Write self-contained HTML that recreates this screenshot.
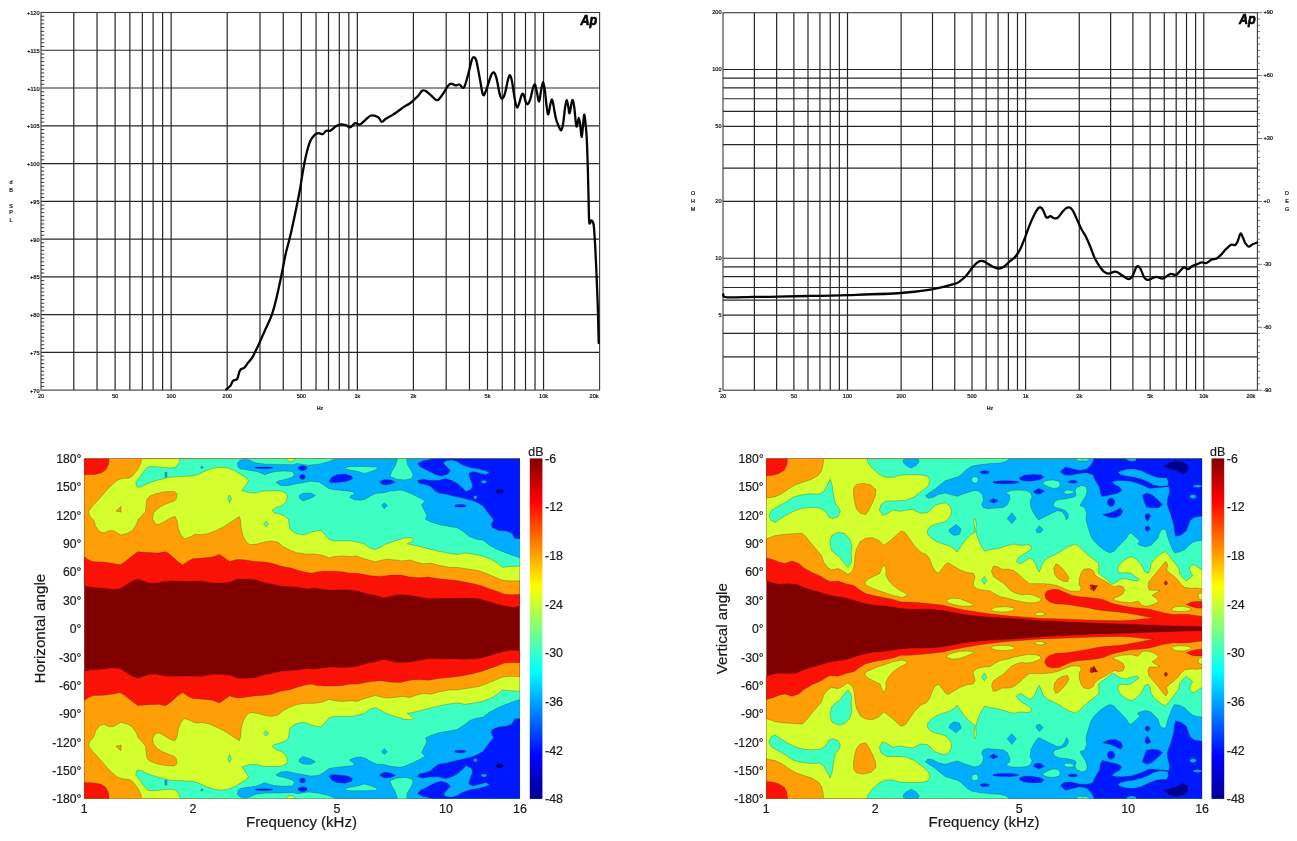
<!DOCTYPE html>
<html><head><meta charset="utf-8"><title>Driver measurements</title>
<style>
html,body{margin:0;padding:0;background:#fff;}
body{width:1297px;height:841px;overflow:hidden;font-family:'Liberation Sans', sans-serif;}
svg{display:block;font-family:"Liberation Sans", sans-serif;filter:blur(0.45px);}
</style></head><body>
<svg width="1297" height="841" viewBox="0 0 1297 841">
<rect width="1297" height="841" fill="#fff"/>
<g id="chartA">
<line x1="73.79" y1="12.50" x2="73.79" y2="390.10" stroke="#262626" stroke-width="1.2" />
<line x1="97.05" y1="12.50" x2="97.05" y2="390.10" stroke="#262626" stroke-width="1.2" />
<line x1="115.10" y1="12.50" x2="115.10" y2="390.10" stroke="#262626" stroke-width="1.2" />
<line x1="129.84" y1="12.50" x2="129.84" y2="390.10" stroke="#262626" stroke-width="1.2" />
<line x1="142.31" y1="12.50" x2="142.31" y2="390.10" stroke="#262626" stroke-width="1.2" />
<line x1="153.10" y1="12.50" x2="153.10" y2="390.10" stroke="#262626" stroke-width="1.2" />
<line x1="162.63" y1="12.50" x2="162.63" y2="390.10" stroke="#262626" stroke-width="1.2" />
<line x1="171.15" y1="12.50" x2="171.15" y2="390.10" stroke="#262626" stroke-width="1.2" />
<line x1="227.20" y1="12.50" x2="227.20" y2="390.10" stroke="#262626" stroke-width="1.2" />
<line x1="259.99" y1="12.50" x2="259.99" y2="390.10" stroke="#262626" stroke-width="1.2" />
<line x1="283.25" y1="12.50" x2="283.25" y2="390.10" stroke="#262626" stroke-width="1.2" />
<line x1="301.30" y1="12.50" x2="301.30" y2="390.10" stroke="#262626" stroke-width="1.2" />
<line x1="316.04" y1="12.50" x2="316.04" y2="390.10" stroke="#262626" stroke-width="1.2" />
<line x1="328.51" y1="12.50" x2="328.51" y2="390.10" stroke="#262626" stroke-width="1.2" />
<line x1="339.30" y1="12.50" x2="339.30" y2="390.10" stroke="#262626" stroke-width="1.2" />
<line x1="348.83" y1="12.50" x2="348.83" y2="390.10" stroke="#262626" stroke-width="1.2" />
<line x1="357.35" y1="12.50" x2="357.35" y2="390.10" stroke="#262626" stroke-width="1.2" />
<line x1="413.40" y1="12.50" x2="413.40" y2="390.10" stroke="#262626" stroke-width="1.2" />
<line x1="446.19" y1="12.50" x2="446.19" y2="390.10" stroke="#262626" stroke-width="1.2" />
<line x1="469.45" y1="12.50" x2="469.45" y2="390.10" stroke="#262626" stroke-width="1.2" />
<line x1="487.50" y1="12.50" x2="487.50" y2="390.10" stroke="#262626" stroke-width="1.2" />
<line x1="502.24" y1="12.50" x2="502.24" y2="390.10" stroke="#262626" stroke-width="1.2" />
<line x1="514.71" y1="12.50" x2="514.71" y2="390.10" stroke="#262626" stroke-width="1.2" />
<line x1="525.50" y1="12.50" x2="525.50" y2="390.10" stroke="#262626" stroke-width="1.2" />
<line x1="535.03" y1="12.50" x2="535.03" y2="390.10" stroke="#262626" stroke-width="1.2" />
<line x1="543.55" y1="12.50" x2="543.55" y2="390.10" stroke="#262626" stroke-width="1.2" />
<line x1="41.00" y1="50.26" x2="599.60" y2="50.26" stroke="#262626" stroke-width="1.2" />
<line x1="41.00" y1="88.02" x2="599.60" y2="88.02" stroke="#262626" stroke-width="1.2" />
<line x1="41.00" y1="125.78" x2="599.60" y2="125.78" stroke="#262626" stroke-width="1.2" />
<line x1="41.00" y1="163.54" x2="599.60" y2="163.54" stroke="#262626" stroke-width="1.2" />
<line x1="41.00" y1="201.30" x2="599.60" y2="201.30" stroke="#262626" stroke-width="1.2" />
<line x1="41.00" y1="239.06" x2="599.60" y2="239.06" stroke="#262626" stroke-width="1.2" />
<line x1="41.00" y1="276.82" x2="599.60" y2="276.82" stroke="#262626" stroke-width="1.2" />
<line x1="41.00" y1="314.58" x2="599.60" y2="314.58" stroke="#262626" stroke-width="1.2" />
<line x1="41.00" y1="352.34" x2="599.60" y2="352.34" stroke="#262626" stroke-width="1.2" />
<rect x="41.0" y="12.5" width="558.60" height="377.60" fill="none" stroke="#3a3a3a" stroke-width="1.1"/>
<line x1="41.00" y1="16.28" x2="44.20" y2="16.28" stroke="#222" stroke-width="0.9" />
<line x1="41.00" y1="20.05" x2="44.20" y2="20.05" stroke="#222" stroke-width="0.9" />
<line x1="41.00" y1="23.83" x2="44.20" y2="23.83" stroke="#222" stroke-width="0.9" />
<line x1="41.00" y1="27.60" x2="44.20" y2="27.60" stroke="#222" stroke-width="0.9" />
<line x1="41.00" y1="31.38" x2="44.20" y2="31.38" stroke="#222" stroke-width="0.9" />
<line x1="41.00" y1="35.16" x2="44.20" y2="35.16" stroke="#222" stroke-width="0.9" />
<line x1="41.00" y1="38.93" x2="44.20" y2="38.93" stroke="#222" stroke-width="0.9" />
<line x1="41.00" y1="42.71" x2="44.20" y2="42.71" stroke="#222" stroke-width="0.9" />
<line x1="41.00" y1="46.48" x2="44.20" y2="46.48" stroke="#222" stroke-width="0.9" />
<line x1="41.00" y1="54.04" x2="44.20" y2="54.04" stroke="#222" stroke-width="0.9" />
<line x1="41.00" y1="57.81" x2="44.20" y2="57.81" stroke="#222" stroke-width="0.9" />
<line x1="41.00" y1="61.59" x2="44.20" y2="61.59" stroke="#222" stroke-width="0.9" />
<line x1="41.00" y1="65.36" x2="44.20" y2="65.36" stroke="#222" stroke-width="0.9" />
<line x1="41.00" y1="69.14" x2="44.20" y2="69.14" stroke="#222" stroke-width="0.9" />
<line x1="41.00" y1="72.92" x2="44.20" y2="72.92" stroke="#222" stroke-width="0.9" />
<line x1="41.00" y1="76.69" x2="44.20" y2="76.69" stroke="#222" stroke-width="0.9" />
<line x1="41.00" y1="80.47" x2="44.20" y2="80.47" stroke="#222" stroke-width="0.9" />
<line x1="41.00" y1="84.24" x2="44.20" y2="84.24" stroke="#222" stroke-width="0.9" />
<line x1="41.00" y1="91.80" x2="44.20" y2="91.80" stroke="#222" stroke-width="0.9" />
<line x1="41.00" y1="95.57" x2="44.20" y2="95.57" stroke="#222" stroke-width="0.9" />
<line x1="41.00" y1="99.35" x2="44.20" y2="99.35" stroke="#222" stroke-width="0.9" />
<line x1="41.00" y1="103.12" x2="44.20" y2="103.12" stroke="#222" stroke-width="0.9" />
<line x1="41.00" y1="106.90" x2="44.20" y2="106.90" stroke="#222" stroke-width="0.9" />
<line x1="41.00" y1="110.68" x2="44.20" y2="110.68" stroke="#222" stroke-width="0.9" />
<line x1="41.00" y1="114.45" x2="44.20" y2="114.45" stroke="#222" stroke-width="0.9" />
<line x1="41.00" y1="118.23" x2="44.20" y2="118.23" stroke="#222" stroke-width="0.9" />
<line x1="41.00" y1="122.00" x2="44.20" y2="122.00" stroke="#222" stroke-width="0.9" />
<line x1="41.00" y1="129.56" x2="44.20" y2="129.56" stroke="#222" stroke-width="0.9" />
<line x1="41.00" y1="133.33" x2="44.20" y2="133.33" stroke="#222" stroke-width="0.9" />
<line x1="41.00" y1="137.11" x2="44.20" y2="137.11" stroke="#222" stroke-width="0.9" />
<line x1="41.00" y1="140.88" x2="44.20" y2="140.88" stroke="#222" stroke-width="0.9" />
<line x1="41.00" y1="144.66" x2="44.20" y2="144.66" stroke="#222" stroke-width="0.9" />
<line x1="41.00" y1="148.44" x2="44.20" y2="148.44" stroke="#222" stroke-width="0.9" />
<line x1="41.00" y1="152.21" x2="44.20" y2="152.21" stroke="#222" stroke-width="0.9" />
<line x1="41.00" y1="155.99" x2="44.20" y2="155.99" stroke="#222" stroke-width="0.9" />
<line x1="41.00" y1="159.76" x2="44.20" y2="159.76" stroke="#222" stroke-width="0.9" />
<line x1="41.00" y1="167.32" x2="44.20" y2="167.32" stroke="#222" stroke-width="0.9" />
<line x1="41.00" y1="171.09" x2="44.20" y2="171.09" stroke="#222" stroke-width="0.9" />
<line x1="41.00" y1="174.87" x2="44.20" y2="174.87" stroke="#222" stroke-width="0.9" />
<line x1="41.00" y1="178.64" x2="44.20" y2="178.64" stroke="#222" stroke-width="0.9" />
<line x1="41.00" y1="182.42" x2="44.20" y2="182.42" stroke="#222" stroke-width="0.9" />
<line x1="41.00" y1="186.20" x2="44.20" y2="186.20" stroke="#222" stroke-width="0.9" />
<line x1="41.00" y1="189.97" x2="44.20" y2="189.97" stroke="#222" stroke-width="0.9" />
<line x1="41.00" y1="193.75" x2="44.20" y2="193.75" stroke="#222" stroke-width="0.9" />
<line x1="41.00" y1="197.52" x2="44.20" y2="197.52" stroke="#222" stroke-width="0.9" />
<line x1="41.00" y1="205.08" x2="44.20" y2="205.08" stroke="#222" stroke-width="0.9" />
<line x1="41.00" y1="208.85" x2="44.20" y2="208.85" stroke="#222" stroke-width="0.9" />
<line x1="41.00" y1="212.63" x2="44.20" y2="212.63" stroke="#222" stroke-width="0.9" />
<line x1="41.00" y1="216.40" x2="44.20" y2="216.40" stroke="#222" stroke-width="0.9" />
<line x1="41.00" y1="220.18" x2="44.20" y2="220.18" stroke="#222" stroke-width="0.9" />
<line x1="41.00" y1="223.96" x2="44.20" y2="223.96" stroke="#222" stroke-width="0.9" />
<line x1="41.00" y1="227.73" x2="44.20" y2="227.73" stroke="#222" stroke-width="0.9" />
<line x1="41.00" y1="231.51" x2="44.20" y2="231.51" stroke="#222" stroke-width="0.9" />
<line x1="41.00" y1="235.28" x2="44.20" y2="235.28" stroke="#222" stroke-width="0.9" />
<line x1="41.00" y1="242.84" x2="44.20" y2="242.84" stroke="#222" stroke-width="0.9" />
<line x1="41.00" y1="246.61" x2="44.20" y2="246.61" stroke="#222" stroke-width="0.9" />
<line x1="41.00" y1="250.39" x2="44.20" y2="250.39" stroke="#222" stroke-width="0.9" />
<line x1="41.00" y1="254.16" x2="44.20" y2="254.16" stroke="#222" stroke-width="0.9" />
<line x1="41.00" y1="257.94" x2="44.20" y2="257.94" stroke="#222" stroke-width="0.9" />
<line x1="41.00" y1="261.72" x2="44.20" y2="261.72" stroke="#222" stroke-width="0.9" />
<line x1="41.00" y1="265.49" x2="44.20" y2="265.49" stroke="#222" stroke-width="0.9" />
<line x1="41.00" y1="269.27" x2="44.20" y2="269.27" stroke="#222" stroke-width="0.9" />
<line x1="41.00" y1="273.04" x2="44.20" y2="273.04" stroke="#222" stroke-width="0.9" />
<line x1="41.00" y1="280.60" x2="44.20" y2="280.60" stroke="#222" stroke-width="0.9" />
<line x1="41.00" y1="284.37" x2="44.20" y2="284.37" stroke="#222" stroke-width="0.9" />
<line x1="41.00" y1="288.15" x2="44.20" y2="288.15" stroke="#222" stroke-width="0.9" />
<line x1="41.00" y1="291.92" x2="44.20" y2="291.92" stroke="#222" stroke-width="0.9" />
<line x1="41.00" y1="295.70" x2="44.20" y2="295.70" stroke="#222" stroke-width="0.9" />
<line x1="41.00" y1="299.48" x2="44.20" y2="299.48" stroke="#222" stroke-width="0.9" />
<line x1="41.00" y1="303.25" x2="44.20" y2="303.25" stroke="#222" stroke-width="0.9" />
<line x1="41.00" y1="307.03" x2="44.20" y2="307.03" stroke="#222" stroke-width="0.9" />
<line x1="41.00" y1="310.80" x2="44.20" y2="310.80" stroke="#222" stroke-width="0.9" />
<line x1="41.00" y1="318.36" x2="44.20" y2="318.36" stroke="#222" stroke-width="0.9" />
<line x1="41.00" y1="322.13" x2="44.20" y2="322.13" stroke="#222" stroke-width="0.9" />
<line x1="41.00" y1="325.91" x2="44.20" y2="325.91" stroke="#222" stroke-width="0.9" />
<line x1="41.00" y1="329.68" x2="44.20" y2="329.68" stroke="#222" stroke-width="0.9" />
<line x1="41.00" y1="333.46" x2="44.20" y2="333.46" stroke="#222" stroke-width="0.9" />
<line x1="41.00" y1="337.24" x2="44.20" y2="337.24" stroke="#222" stroke-width="0.9" />
<line x1="41.00" y1="341.01" x2="44.20" y2="341.01" stroke="#222" stroke-width="0.9" />
<line x1="41.00" y1="344.79" x2="44.20" y2="344.79" stroke="#222" stroke-width="0.9" />
<line x1="41.00" y1="348.56" x2="44.20" y2="348.56" stroke="#222" stroke-width="0.9" />
<line x1="41.00" y1="356.12" x2="44.20" y2="356.12" stroke="#222" stroke-width="0.9" />
<line x1="41.00" y1="359.89" x2="44.20" y2="359.89" stroke="#222" stroke-width="0.9" />
<line x1="41.00" y1="363.67" x2="44.20" y2="363.67" stroke="#222" stroke-width="0.9" />
<line x1="41.00" y1="367.44" x2="44.20" y2="367.44" stroke="#222" stroke-width="0.9" />
<line x1="41.00" y1="371.22" x2="44.20" y2="371.22" stroke="#222" stroke-width="0.9" />
<line x1="41.00" y1="375.00" x2="44.20" y2="375.00" stroke="#222" stroke-width="0.9" />
<line x1="41.00" y1="378.77" x2="44.20" y2="378.77" stroke="#222" stroke-width="0.9" />
<line x1="41.00" y1="382.55" x2="44.20" y2="382.55" stroke="#222" stroke-width="0.9" />
<line x1="41.00" y1="386.32" x2="44.20" y2="386.32" stroke="#222" stroke-width="0.9" />
<text x="39.50" y="15.10" font-size="5.6" text-anchor="end" fill="#111"  stroke="#111" stroke-width="0.22">+120</text>
<text x="39.50" y="52.86" font-size="5.6" text-anchor="end" fill="#111"  stroke="#111" stroke-width="0.22">+115</text>
<text x="39.50" y="90.62" font-size="5.6" text-anchor="end" fill="#111"  stroke="#111" stroke-width="0.22">+110</text>
<text x="39.50" y="128.38" font-size="5.6" text-anchor="end" fill="#111"  stroke="#111" stroke-width="0.22">+105</text>
<text x="39.50" y="166.14" font-size="5.6" text-anchor="end" fill="#111"  stroke="#111" stroke-width="0.22">+100</text>
<text x="39.50" y="203.90" font-size="5.6" text-anchor="end" fill="#111"  stroke="#111" stroke-width="0.22">+95</text>
<text x="39.50" y="241.66" font-size="5.6" text-anchor="end" fill="#111"  stroke="#111" stroke-width="0.22">+90</text>
<text x="39.50" y="279.42" font-size="5.6" text-anchor="end" fill="#111"  stroke="#111" stroke-width="0.22">+85</text>
<text x="39.50" y="317.18" font-size="5.6" text-anchor="end" fill="#111"  stroke="#111" stroke-width="0.22">+80</text>
<text x="39.50" y="354.94" font-size="5.6" text-anchor="end" fill="#111"  stroke="#111" stroke-width="0.22">+75</text>
<text x="39.50" y="392.70" font-size="5.6" text-anchor="end" fill="#111"  stroke="#111" stroke-width="0.22">+70</text>
<text x="41.00" y="397.60" font-size="5.6" text-anchor="middle" fill="#111"  stroke="#111" stroke-width="0.22">20</text>
<text x="115.10" y="397.60" font-size="5.6" text-anchor="middle" fill="#111"  stroke="#111" stroke-width="0.22">50</text>
<text x="171.15" y="397.60" font-size="5.6" text-anchor="middle" fill="#111"  stroke="#111" stroke-width="0.22">100</text>
<text x="227.20" y="397.60" font-size="5.6" text-anchor="middle" fill="#111"  stroke="#111" stroke-width="0.22">200</text>
<text x="301.30" y="397.60" font-size="5.6" text-anchor="middle" fill="#111"  stroke="#111" stroke-width="0.22">500</text>
<text x="357.35" y="397.60" font-size="5.6" text-anchor="middle" fill="#111"  stroke="#111" stroke-width="0.22">1k</text>
<text x="413.40" y="397.60" font-size="5.6" text-anchor="middle" fill="#111"  stroke="#111" stroke-width="0.22">2k</text>
<text x="487.50" y="397.60" font-size="5.6" text-anchor="middle" fill="#111"  stroke="#111" stroke-width="0.22">5k</text>
<text x="543.55" y="397.60" font-size="5.6" text-anchor="middle" fill="#111"  stroke="#111" stroke-width="0.22">10k</text>
<text x="594.10" y="397.60" font-size="5.6" text-anchor="middle" fill="#111"  stroke="#111" stroke-width="0.22">20k</text>
<text x="320.00" y="409.50" font-size="5.2" text-anchor="middle" fill="#222"  stroke="#111" stroke-width="0.22">Hz</text>
<text x="11.00" y="184.20" font-size="5.4" text-anchor="middle" fill="#222"  stroke="#111" stroke-width="0.22">d</text>
<text x="11.00" y="191.80" font-size="5.4" text-anchor="middle" fill="#222"  stroke="#111" stroke-width="0.22">B</text>
<text x="11.00" y="207.50" font-size="5.4" text-anchor="middle" fill="#222"  stroke="#111" stroke-width="0.22">S</text>
<text x="11.00" y="214.30" font-size="5.4" text-anchor="middle" fill="#222"  stroke="#111" stroke-width="0.22">P</text>
<text x="11.00" y="222.20" font-size="5.4" text-anchor="middle" fill="#222"  stroke="#111" stroke-width="0.22">L</text>
<path d="M226.2,389.3 C226.9,388.7 229.2,387.3 230.3,385.9 C231.5,384.5 231.9,381.8 233.1,380.7 C234.2,379.6 236.0,380.7 237.2,379.0 C238.3,377.3 238.8,372.2 240.0,370.3 C241.2,368.4 242.8,369.0 244.1,367.9 C245.4,366.8 246.1,365.3 247.6,363.4 C249.1,361.5 251.1,359.5 252.8,356.6 C254.5,353.7 255.9,350.5 257.9,346.2 C259.9,341.9 262.5,335.9 264.8,330.7 C267.1,325.5 269.7,320.9 271.7,315.2 C273.7,309.4 275.2,303.4 276.9,296.2 C278.6,289.0 280.7,279.0 282.1,272.1 C283.5,265.2 284.1,261.1 285.5,254.8 C286.9,248.5 289.0,241.6 290.7,234.1 C292.4,226.6 294.3,217.5 295.9,210.0 C297.4,202.5 298.9,195.6 300.0,189.3 C301.1,183.0 301.8,177.8 302.8,172.1 C303.8,166.3 304.9,160.0 306.2,154.8 C307.4,149.6 308.9,144.3 310.3,141.0 C311.7,137.7 313.5,136.1 314.8,134.8 C316.1,133.5 317.0,133.2 318.3,133.1 C319.6,133.0 321.5,134.5 322.8,134.1 C324.1,133.7 324.9,131.3 326.2,130.7 C327.4,130.1 328.8,131.4 330.3,130.7 C331.9,130.0 333.8,127.6 335.5,126.6 C337.2,125.6 339.0,124.7 340.7,124.5 C342.4,124.3 344.3,124.8 345.9,125.2 C347.5,125.7 348.8,127.6 350.3,127.2 C351.9,126.8 353.6,123.5 355.2,123.1 C356.8,122.6 358.0,125.0 359.7,124.5 C361.4,124.0 363.3,121.6 365.2,120.1 C367.1,118.6 368.9,116.0 371.1,115.5 C373.3,115.0 376.6,116.2 378.3,117.2 C380.1,118.2 380.3,121.6 381.6,121.8 C382.9,122.0 384.7,119.5 386.2,118.5 C387.7,117.5 389.0,117.1 390.7,116.1 C392.4,115.0 394.5,113.7 396.6,112.2 C398.7,110.8 401.0,108.9 403.2,107.4 C405.4,106.0 408.0,104.7 409.7,103.5 C411.4,102.3 412.1,101.6 413.6,100.2 C415.1,98.8 417.5,96.6 418.9,95.0 C420.3,93.4 421.0,91.5 422.1,90.8 C423.2,90.1 423.9,90.0 425.4,90.8 C426.9,91.6 429.3,94.0 431.3,95.6 C433.3,97.2 435.2,100.5 437.2,100.2 C439.2,99.9 441.4,95.9 443.1,93.6 C444.9,91.3 446.4,88.1 447.7,86.4 C449.0,84.7 449.6,83.8 450.9,83.6 C452.2,83.4 454.1,85.2 455.5,85.4 C456.9,85.6 458.0,84.2 459.4,84.5 C460.8,84.8 462.5,89.4 464.0,87.4 C465.5,85.4 467.3,77.3 468.6,72.7 C469.9,68.1 471.0,62.2 471.9,59.6 C472.8,57.0 473.4,57.1 474.1,57.3 C474.9,57.5 475.5,57.5 476.4,60.9 C477.3,64.3 478.6,72.3 479.7,77.9 C480.8,83.5 481.9,92.7 483.0,94.7 C484.1,96.7 485.0,92.8 486.3,89.7 C487.6,86.6 489.6,78.9 490.8,76.0 C492.0,73.1 492.8,72.1 493.7,72.4 C494.6,72.7 495.4,74.4 496.4,77.9 C497.4,81.4 498.7,90.1 499.6,93.6 C500.5,97.0 501.1,98.6 502.0,98.6 C502.9,98.6 503.9,96.8 504.9,93.6 C505.9,90.4 507.2,82.3 508.1,79.3 C509.0,76.2 509.4,74.9 510.1,75.3 C510.8,75.7 511.3,78.0 512.1,81.9 C512.9,85.8 513.9,94.7 514.7,98.9 C515.5,103.2 516.2,106.8 517.0,107.4 C517.8,108.1 518.5,105.0 519.3,102.8 C520.1,100.6 521.1,95.6 521.9,94.3 C522.6,93.0 523.1,93.7 523.8,95.0 C524.4,96.3 525.1,100.6 525.8,102.1 C526.5,103.6 527.0,104.6 527.8,104.1 C528.6,103.6 529.5,101.6 530.4,98.9 C531.3,96.2 532.2,90.2 533.0,87.8 C533.8,85.4 534.4,83.8 535.0,84.5 C535.6,85.2 536.2,89.5 536.9,92.3 C537.6,95.1 538.4,101.9 539.1,101.5 C539.8,101.1 540.5,92.9 541.2,89.7 C541.9,86.5 542.5,82.1 543.1,82.1 C543.7,82.1 544.2,85.6 544.8,89.7 C545.4,93.8 546.1,102.6 546.7,106.7 C547.3,110.8 547.7,114.7 548.3,114.3 C548.9,113.9 549.8,106.6 550.4,104.1 C551.0,101.6 551.5,99.3 552.0,99.5 C552.5,99.7 552.9,102.2 553.5,105.4 C554.1,108.6 555.1,115.1 555.9,118.5 C556.7,121.9 557.6,123.7 558.5,125.7 C559.4,127.7 560.3,130.6 561.1,130.3 C561.9,130.0 562.5,127.4 563.1,123.7 C563.8,120.0 564.4,111.9 565.0,108.0 C565.6,104.1 566.1,100.4 566.6,100.2 C567.1,100.0 567.8,104.5 568.3,106.7 C568.8,108.9 569.0,114.0 569.6,113.3 C570.2,112.6 571.1,104.9 571.6,102.8 C572.1,100.7 572.4,99.3 572.9,100.4 C573.4,101.5 574.0,105.1 574.5,109.3 C575.0,113.5 575.7,123.3 576.2,125.7 C576.7,128.1 577.1,125.0 577.5,123.7 C577.9,122.4 578.4,117.8 578.8,117.8 C579.2,117.8 579.6,120.5 580.1,123.7 C580.6,126.9 581.2,137.2 581.8,136.8 C582.3,136.4 583.0,124.8 583.4,121.1 C583.8,117.4 584.0,114.1 584.4,114.8 C584.8,115.5 585.3,120.9 585.7,125.0 C586.1,129.1 586.4,131.6 586.8,139.3 C587.2,147.0 587.6,161.3 587.9,171.4 C588.2,181.5 588.4,191.5 588.6,200.0 C588.8,208.5 588.8,219.1 589.3,222.5 C589.8,225.9 590.7,220.2 591.4,220.5 C592.1,220.8 593.0,220.8 593.6,224.5 C594.2,228.2 594.5,235.1 595.0,242.9 C595.5,250.7 595.9,261.3 596.4,271.4 C596.9,281.5 597.3,291.7 597.7,303.6 C598.1,315.5 598.5,336.4 598.7,343.0" stroke="#050505" stroke-width="2.3" fill="none" stroke-linejoin="round" stroke-linecap="round"/>
<text x="580.4" y="24.5" font-size="14.6" font-weight="bold" font-style="italic" fill="#000" stroke="#000" stroke-width="0.7" textLength="16.8" lengthAdjust="spacingAndGlyphs">Ap</text>
</g>
<g id="chartB">
<line x1="754.37" y1="12.70" x2="754.37" y2="390.20" stroke="#262626" stroke-width="1.2" />
<line x1="776.62" y1="12.70" x2="776.62" y2="390.20" stroke="#262626" stroke-width="1.2" />
<line x1="793.89" y1="12.70" x2="793.89" y2="390.20" stroke="#262626" stroke-width="1.2" />
<line x1="807.99" y1="12.70" x2="807.99" y2="390.20" stroke="#262626" stroke-width="1.2" />
<line x1="819.92" y1="12.70" x2="819.92" y2="390.20" stroke="#262626" stroke-width="1.2" />
<line x1="830.25" y1="12.70" x2="830.25" y2="390.20" stroke="#262626" stroke-width="1.2" />
<line x1="839.36" y1="12.70" x2="839.36" y2="390.20" stroke="#262626" stroke-width="1.2" />
<line x1="847.51" y1="12.70" x2="847.51" y2="390.20" stroke="#262626" stroke-width="1.2" />
<line x1="901.13" y1="12.70" x2="901.13" y2="390.20" stroke="#262626" stroke-width="1.2" />
<line x1="932.50" y1="12.70" x2="932.50" y2="390.20" stroke="#262626" stroke-width="1.2" />
<line x1="954.76" y1="12.70" x2="954.76" y2="390.20" stroke="#262626" stroke-width="1.2" />
<line x1="972.02" y1="12.70" x2="972.02" y2="390.20" stroke="#262626" stroke-width="1.2" />
<line x1="986.12" y1="12.70" x2="986.12" y2="390.20" stroke="#262626" stroke-width="1.2" />
<line x1="998.05" y1="12.70" x2="998.05" y2="390.20" stroke="#262626" stroke-width="1.2" />
<line x1="1008.38" y1="12.70" x2="1008.38" y2="390.20" stroke="#262626" stroke-width="1.2" />
<line x1="1017.49" y1="12.70" x2="1017.49" y2="390.20" stroke="#262626" stroke-width="1.2" />
<line x1="1025.64" y1="12.70" x2="1025.64" y2="390.20" stroke="#262626" stroke-width="1.2" />
<line x1="1079.27" y1="12.70" x2="1079.27" y2="390.20" stroke="#262626" stroke-width="1.2" />
<line x1="1110.63" y1="12.70" x2="1110.63" y2="390.20" stroke="#262626" stroke-width="1.2" />
<line x1="1132.89" y1="12.70" x2="1132.89" y2="390.20" stroke="#262626" stroke-width="1.2" />
<line x1="1150.15" y1="12.70" x2="1150.15" y2="390.20" stroke="#262626" stroke-width="1.2" />
<line x1="1164.26" y1="12.70" x2="1164.26" y2="390.20" stroke="#262626" stroke-width="1.2" />
<line x1="1176.18" y1="12.70" x2="1176.18" y2="390.20" stroke="#262626" stroke-width="1.2" />
<line x1="1186.51" y1="12.70" x2="1186.51" y2="390.20" stroke="#262626" stroke-width="1.2" />
<line x1="1195.63" y1="12.70" x2="1195.63" y2="390.20" stroke="#262626" stroke-width="1.2" />
<line x1="1203.78" y1="12.70" x2="1203.78" y2="390.20" stroke="#262626" stroke-width="1.2" />
<line x1="723.00" y1="69.52" x2="1257.40" y2="69.52" stroke="#262626" stroke-width="1.2" />
<line x1="723.00" y1="78.16" x2="1257.40" y2="78.16" stroke="#262626" stroke-width="1.2" />
<line x1="723.00" y1="87.81" x2="1257.40" y2="87.81" stroke="#262626" stroke-width="1.2" />
<line x1="723.00" y1="98.76" x2="1257.40" y2="98.76" stroke="#262626" stroke-width="1.2" />
<line x1="723.00" y1="111.39" x2="1257.40" y2="111.39" stroke="#262626" stroke-width="1.2" />
<line x1="723.00" y1="126.34" x2="1257.40" y2="126.34" stroke="#262626" stroke-width="1.2" />
<line x1="723.00" y1="144.63" x2="1257.40" y2="144.63" stroke="#262626" stroke-width="1.2" />
<line x1="723.00" y1="168.21" x2="1257.40" y2="168.21" stroke="#262626" stroke-width="1.2" />
<line x1="723.00" y1="201.45" x2="1257.40" y2="201.45" stroke="#262626" stroke-width="1.2" />
<line x1="723.00" y1="258.27" x2="1257.40" y2="258.27" stroke="#262626" stroke-width="1.2" />
<line x1="723.00" y1="266.91" x2="1257.40" y2="266.91" stroke="#262626" stroke-width="1.2" />
<line x1="723.00" y1="276.56" x2="1257.40" y2="276.56" stroke="#262626" stroke-width="1.2" />
<line x1="723.00" y1="287.51" x2="1257.40" y2="287.51" stroke="#262626" stroke-width="1.2" />
<line x1="723.00" y1="300.14" x2="1257.40" y2="300.14" stroke="#262626" stroke-width="1.2" />
<line x1="723.00" y1="315.09" x2="1257.40" y2="315.09" stroke="#262626" stroke-width="1.2" />
<line x1="723.00" y1="333.38" x2="1257.40" y2="333.38" stroke="#262626" stroke-width="1.2" />
<line x1="723.00" y1="356.96" x2="1257.40" y2="356.96" stroke="#262626" stroke-width="1.2" />
<rect x="723.0" y="12.7" width="534.40" height="377.50" fill="none" stroke="#3a3a3a" stroke-width="1.1"/>
<line x1="1257.40" y1="12.70" x2="1261.90" y2="12.70" stroke="#444" stroke-width="0.75" />
<line x1="1257.40" y1="18.99" x2="1260.00" y2="18.99" stroke="#444" stroke-width="0.75" />
<line x1="1257.40" y1="25.28" x2="1260.00" y2="25.28" stroke="#444" stroke-width="0.75" />
<line x1="1257.40" y1="31.57" x2="1260.00" y2="31.57" stroke="#444" stroke-width="0.75" />
<line x1="1257.40" y1="37.87" x2="1260.00" y2="37.87" stroke="#444" stroke-width="0.75" />
<line x1="1257.40" y1="44.16" x2="1260.00" y2="44.16" stroke="#444" stroke-width="0.75" />
<line x1="1257.40" y1="50.45" x2="1260.00" y2="50.45" stroke="#444" stroke-width="0.75" />
<line x1="1257.40" y1="56.74" x2="1260.00" y2="56.74" stroke="#444" stroke-width="0.75" />
<line x1="1257.40" y1="63.03" x2="1260.00" y2="63.03" stroke="#444" stroke-width="0.75" />
<line x1="1257.40" y1="69.33" x2="1260.00" y2="69.33" stroke="#444" stroke-width="0.75" />
<line x1="1257.40" y1="75.62" x2="1261.90" y2="75.62" stroke="#444" stroke-width="0.75" />
<line x1="1257.40" y1="81.91" x2="1260.00" y2="81.91" stroke="#444" stroke-width="0.75" />
<line x1="1257.40" y1="88.20" x2="1260.00" y2="88.20" stroke="#444" stroke-width="0.75" />
<line x1="1257.40" y1="94.49" x2="1260.00" y2="94.49" stroke="#444" stroke-width="0.75" />
<line x1="1257.40" y1="100.78" x2="1260.00" y2="100.78" stroke="#444" stroke-width="0.75" />
<line x1="1257.40" y1="107.08" x2="1260.00" y2="107.08" stroke="#444" stroke-width="0.75" />
<line x1="1257.40" y1="113.37" x2="1260.00" y2="113.37" stroke="#444" stroke-width="0.75" />
<line x1="1257.40" y1="119.66" x2="1260.00" y2="119.66" stroke="#444" stroke-width="0.75" />
<line x1="1257.40" y1="125.95" x2="1260.00" y2="125.95" stroke="#444" stroke-width="0.75" />
<line x1="1257.40" y1="132.24" x2="1260.00" y2="132.24" stroke="#444" stroke-width="0.75" />
<line x1="1257.40" y1="138.53" x2="1261.90" y2="138.53" stroke="#444" stroke-width="0.75" />
<line x1="1257.40" y1="144.82" x2="1260.00" y2="144.82" stroke="#444" stroke-width="0.75" />
<line x1="1257.40" y1="151.12" x2="1260.00" y2="151.12" stroke="#444" stroke-width="0.75" />
<line x1="1257.40" y1="157.41" x2="1260.00" y2="157.41" stroke="#444" stroke-width="0.75" />
<line x1="1257.40" y1="163.70" x2="1260.00" y2="163.70" stroke="#444" stroke-width="0.75" />
<line x1="1257.40" y1="169.99" x2="1260.00" y2="169.99" stroke="#444" stroke-width="0.75" />
<line x1="1257.40" y1="176.28" x2="1260.00" y2="176.28" stroke="#444" stroke-width="0.75" />
<line x1="1257.40" y1="182.57" x2="1260.00" y2="182.57" stroke="#444" stroke-width="0.75" />
<line x1="1257.40" y1="188.87" x2="1260.00" y2="188.87" stroke="#444" stroke-width="0.75" />
<line x1="1257.40" y1="195.16" x2="1260.00" y2="195.16" stroke="#444" stroke-width="0.75" />
<line x1="1257.40" y1="201.45" x2="1261.90" y2="201.45" stroke="#444" stroke-width="0.75" />
<line x1="1257.40" y1="207.74" x2="1260.00" y2="207.74" stroke="#444" stroke-width="0.75" />
<line x1="1257.40" y1="214.03" x2="1260.00" y2="214.03" stroke="#444" stroke-width="0.75" />
<line x1="1257.40" y1="220.32" x2="1260.00" y2="220.32" stroke="#444" stroke-width="0.75" />
<line x1="1257.40" y1="226.62" x2="1260.00" y2="226.62" stroke="#444" stroke-width="0.75" />
<line x1="1257.40" y1="232.91" x2="1260.00" y2="232.91" stroke="#444" stroke-width="0.75" />
<line x1="1257.40" y1="239.20" x2="1260.00" y2="239.20" stroke="#444" stroke-width="0.75" />
<line x1="1257.40" y1="245.49" x2="1260.00" y2="245.49" stroke="#444" stroke-width="0.75" />
<line x1="1257.40" y1="251.78" x2="1260.00" y2="251.78" stroke="#444" stroke-width="0.75" />
<line x1="1257.40" y1="258.07" x2="1260.00" y2="258.07" stroke="#444" stroke-width="0.75" />
<line x1="1257.40" y1="264.37" x2="1261.90" y2="264.37" stroke="#444" stroke-width="0.75" />
<line x1="1257.40" y1="270.66" x2="1260.00" y2="270.66" stroke="#444" stroke-width="0.75" />
<line x1="1257.40" y1="276.95" x2="1260.00" y2="276.95" stroke="#444" stroke-width="0.75" />
<line x1="1257.40" y1="283.24" x2="1260.00" y2="283.24" stroke="#444" stroke-width="0.75" />
<line x1="1257.40" y1="289.53" x2="1260.00" y2="289.53" stroke="#444" stroke-width="0.75" />
<line x1="1257.40" y1="295.82" x2="1260.00" y2="295.82" stroke="#444" stroke-width="0.75" />
<line x1="1257.40" y1="302.12" x2="1260.00" y2="302.12" stroke="#444" stroke-width="0.75" />
<line x1="1257.40" y1="308.41" x2="1260.00" y2="308.41" stroke="#444" stroke-width="0.75" />
<line x1="1257.40" y1="314.70" x2="1260.00" y2="314.70" stroke="#444" stroke-width="0.75" />
<line x1="1257.40" y1="320.99" x2="1260.00" y2="320.99" stroke="#444" stroke-width="0.75" />
<line x1="1257.40" y1="327.28" x2="1261.90" y2="327.28" stroke="#444" stroke-width="0.75" />
<line x1="1257.40" y1="333.57" x2="1260.00" y2="333.57" stroke="#444" stroke-width="0.75" />
<line x1="1257.40" y1="339.87" x2="1260.00" y2="339.87" stroke="#444" stroke-width="0.75" />
<line x1="1257.40" y1="346.16" x2="1260.00" y2="346.16" stroke="#444" stroke-width="0.75" />
<line x1="1257.40" y1="352.45" x2="1260.00" y2="352.45" stroke="#444" stroke-width="0.75" />
<line x1="1257.40" y1="358.74" x2="1260.00" y2="358.74" stroke="#444" stroke-width="0.75" />
<line x1="1257.40" y1="365.03" x2="1260.00" y2="365.03" stroke="#444" stroke-width="0.75" />
<line x1="1257.40" y1="371.32" x2="1260.00" y2="371.32" stroke="#444" stroke-width="0.75" />
<line x1="1257.40" y1="377.62" x2="1260.00" y2="377.62" stroke="#444" stroke-width="0.75" />
<line x1="1257.40" y1="383.91" x2="1260.00" y2="383.91" stroke="#444" stroke-width="0.75" />
<line x1="1257.40" y1="390.20" x2="1261.90" y2="390.20" stroke="#444" stroke-width="0.75" />
<text x="1263.40" y="14.30" font-size="5.6" text-anchor="start" fill="#111"  stroke="#111" stroke-width="0.22">+90</text>
<text x="1263.40" y="77.22" font-size="5.6" text-anchor="start" fill="#111"  stroke="#111" stroke-width="0.22">+60</text>
<text x="1263.40" y="140.13" font-size="5.6" text-anchor="start" fill="#111"  stroke="#111" stroke-width="0.22">+30</text>
<text x="1263.40" y="203.05" font-size="5.6" text-anchor="start" fill="#111"  stroke="#111" stroke-width="0.22">+0</text>
<text x="1263.40" y="265.97" font-size="5.6" text-anchor="start" fill="#111"  stroke="#111" stroke-width="0.22">-30</text>
<text x="1263.40" y="328.88" font-size="5.6" text-anchor="start" fill="#111"  stroke="#111" stroke-width="0.22">-60</text>
<text x="1263.40" y="391.80" font-size="5.6" text-anchor="start" fill="#111"  stroke="#111" stroke-width="0.22">-90</text>
<text x="721.50" y="14.20" font-size="5.6" text-anchor="end" fill="#111"  stroke="#111" stroke-width="0.22">200</text>
<text x="721.50" y="71.02" font-size="5.6" text-anchor="end" fill="#111"  stroke="#111" stroke-width="0.22">100</text>
<text x="721.50" y="127.84" font-size="5.6" text-anchor="end" fill="#111"  stroke="#111" stroke-width="0.22">50</text>
<text x="721.50" y="202.95" font-size="5.6" text-anchor="end" fill="#111"  stroke="#111" stroke-width="0.22">20</text>
<text x="721.50" y="259.77" font-size="5.6" text-anchor="end" fill="#111"  stroke="#111" stroke-width="0.22">10</text>
<text x="721.50" y="316.59" font-size="5.6" text-anchor="end" fill="#111"  stroke="#111" stroke-width="0.22">5</text>
<text x="721.50" y="391.70" font-size="5.6" text-anchor="end" fill="#111"  stroke="#111" stroke-width="0.22">2</text>
<text x="723.00" y="397.70" font-size="5.6" text-anchor="middle" fill="#111"  stroke="#111" stroke-width="0.22">20</text>
<text x="793.89" y="397.70" font-size="5.6" text-anchor="middle" fill="#111"  stroke="#111" stroke-width="0.22">50</text>
<text x="847.51" y="397.70" font-size="5.6" text-anchor="middle" fill="#111"  stroke="#111" stroke-width="0.22">100</text>
<text x="901.13" y="397.70" font-size="5.6" text-anchor="middle" fill="#111"  stroke="#111" stroke-width="0.22">200</text>
<text x="972.02" y="397.70" font-size="5.6" text-anchor="middle" fill="#111"  stroke="#111" stroke-width="0.22">500</text>
<text x="1025.64" y="397.70" font-size="5.6" text-anchor="middle" fill="#111"  stroke="#111" stroke-width="0.22">1k</text>
<text x="1079.27" y="397.70" font-size="5.6" text-anchor="middle" fill="#111"  stroke="#111" stroke-width="0.22">2k</text>
<text x="1150.15" y="397.70" font-size="5.6" text-anchor="middle" fill="#111"  stroke="#111" stroke-width="0.22">5k</text>
<text x="1203.78" y="397.70" font-size="5.6" text-anchor="middle" fill="#111"  stroke="#111" stroke-width="0.22">10k</text>
<text x="1250.90" y="397.70" font-size="5.6" text-anchor="middle" fill="#111"  stroke="#111" stroke-width="0.22">20k</text>
<text x="990.00" y="409.50" font-size="5.2" text-anchor="middle" fill="#222"  stroke="#111" stroke-width="0.22">Hz</text>
<text x="693.00" y="195.00" font-size="5.4" text-anchor="middle" fill="#222"  stroke="#111" stroke-width="0.22">O</text>
<text x="693.00" y="202.80" font-size="5.4" text-anchor="middle" fill="#222"  stroke="#111" stroke-width="0.22">H</text>
<text x="693.00" y="210.60" font-size="5.4" text-anchor="middle" fill="#222"  stroke="#111" stroke-width="0.22">M</text>
<text x="1287.00" y="195.00" font-size="5.4" text-anchor="middle" fill="#222"  stroke="#111" stroke-width="0.22">D</text>
<text x="1287.00" y="202.80" font-size="5.4" text-anchor="middle" fill="#222"  stroke="#111" stroke-width="0.22">E</text>
<text x="1287.00" y="210.60" font-size="5.4" text-anchor="middle" fill="#222"  stroke="#111" stroke-width="0.22">G</text>
<path d="M723.2,294.3 C723.8,294.8 721.8,296.9 726.9,297.3 C732.0,297.7 745.4,297.0 753.9,296.9 C762.4,296.8 768.6,296.8 777.6,296.6 C786.6,296.5 796.1,296.2 807.8,296.0 C819.5,295.8 832.3,295.6 847.8,295.1 C863.3,294.6 886.7,294.0 900.7,293.0 C914.7,292.0 923.0,290.8 932.0,289.3 C941.0,287.8 949.9,285.3 954.6,283.9 C959.3,282.5 958.0,282.6 960.0,281.1 C962.0,279.7 964.4,277.6 966.6,275.2 C968.8,272.8 971.1,268.9 973.1,266.7 C975.1,264.5 976.9,262.8 978.4,261.8 C979.9,260.9 981.0,260.9 982.3,261.0 C983.6,261.1 984.5,261.8 986.2,262.7 C988.0,263.6 990.7,265.7 992.8,266.7 C994.9,267.7 996.9,268.6 998.7,268.6 C1000.6,268.6 1002.0,267.9 1003.9,266.7 C1005.8,265.5 1007.8,263.1 1009.8,261.4 C1011.8,259.6 1014.0,258.3 1015.7,256.2 C1017.5,254.1 1018.8,252.1 1020.3,249.0 C1021.8,245.9 1023.4,241.7 1024.9,237.8 C1026.4,233.9 1028.0,229.2 1029.5,225.4 C1031.0,221.6 1032.7,217.7 1034.1,214.9 C1035.5,212.1 1036.9,209.7 1038.0,208.4 C1039.1,207.2 1039.7,207.1 1040.6,207.4 C1041.5,207.7 1042.2,208.6 1043.2,210.3 C1044.2,212.0 1045.3,216.5 1046.5,217.5 C1047.7,218.5 1049.2,216.1 1050.4,216.2 C1051.6,216.3 1052.5,217.9 1053.7,218.2 C1054.9,218.5 1056.4,218.7 1057.7,217.8 C1059.0,216.9 1060.3,214.4 1061.6,212.9 C1062.9,211.4 1064.2,209.5 1065.5,208.6 C1066.8,207.7 1068.2,207.1 1069.4,207.4 C1070.6,207.7 1071.5,208.4 1072.7,210.3 C1073.9,212.2 1075.3,215.7 1076.7,218.8 C1078.1,221.9 1079.7,225.8 1081.2,228.7 C1082.7,231.6 1084.3,233.4 1085.8,236.5 C1087.3,239.6 1088.9,243.3 1090.4,247.0 C1091.9,250.7 1093.3,255.4 1095.0,258.8 C1096.7,262.2 1098.8,265.2 1100.3,267.3 C1101.8,269.4 1102.5,270.6 1103.9,271.6 C1105.3,272.7 1106.5,273.6 1108.5,273.6 C1110.5,273.6 1113.4,271.3 1115.7,271.6 C1118.0,271.9 1120.1,274.2 1122.3,275.5 C1124.5,276.8 1127.0,279.2 1128.8,279.2 C1130.5,279.2 1131.6,277.4 1132.8,275.5 C1134.0,273.6 1135.1,269.3 1136.0,267.7 C1136.9,266.1 1137.2,265.9 1138.0,266.1 C1138.8,266.3 1139.6,267.2 1140.6,269.0 C1141.6,270.8 1142.8,275.0 1143.9,276.8 C1145.0,278.6 1146.0,279.6 1147.2,279.9 C1148.4,280.2 1149.6,279.3 1151.1,278.8 C1152.6,278.3 1154.5,276.8 1156.4,276.8 C1158.3,276.8 1160.6,278.7 1162.3,278.6 C1164.0,278.5 1165.4,277.0 1166.8,276.2 C1168.2,275.4 1169.3,274.0 1170.8,273.8 C1172.3,273.6 1174.5,275.4 1176.0,274.9 C1177.5,274.4 1178.7,272.3 1180.0,271.0 C1181.3,269.7 1182.6,267.6 1183.9,267.3 C1185.2,267.0 1186.4,269.4 1187.8,269.2 C1189.2,269.0 1190.8,267.0 1192.4,266.1 C1194.1,265.2 1196.2,264.6 1197.7,264.0 C1199.2,263.4 1200.2,262.5 1201.6,262.4 C1203.0,262.2 1204.6,263.5 1206.2,263.1 C1207.8,262.7 1209.7,260.6 1211.4,259.8 C1213.2,259.0 1215.1,259.4 1216.7,258.5 C1218.3,257.6 1219.7,256.1 1221.2,254.6 C1222.7,253.1 1224.2,251.0 1225.8,249.3 C1227.4,247.7 1229.6,245.4 1231.1,244.7 C1232.6,244.0 1233.9,245.6 1235.0,245.1 C1236.1,244.6 1236.7,243.4 1237.6,241.5 C1238.5,239.6 1239.6,234.3 1240.5,233.6 C1241.4,232.9 1242.1,235.9 1242.9,237.5 C1243.7,239.1 1244.5,241.9 1245.5,243.4 C1246.5,244.9 1247.6,246.5 1248.8,246.7 C1250.0,246.8 1251.3,245.0 1252.7,244.3 C1254.1,243.6 1256.5,242.8 1257.3,242.5" stroke="#050505" stroke-width="2.3" fill="none" stroke-linejoin="round" stroke-linecap="round"/>
<text x="1238.9" y="24.4" font-size="14.6" font-weight="bold" font-style="italic" fill="#000" stroke="#000" stroke-width="0.7" textLength="16.8" lengthAdjust="spacingAndGlyphs">Ap</text>
</g>
<defs><linearGradient id="jet" x1="0" y1="0" x2="0" y2="1"><stop offset="0" stop-color="#800000"/><stop offset="0.125" stop-color="#ff0000"/><stop offset="0.375" stop-color="#ffff00"/><stop offset="0.625" stop-color="#00ffff"/><stop offset="0.875" stop-color="#0000ff"/><stop offset="1" stop-color="#00008f"/></linearGradient></defs>
<clipPath id="clipL"><rect x="84.1" y="458.4" width="435.80" height="340.50"/></clipPath>
<g clip-path="url(#clipL)">
<rect x="84.1" y="458.4" width="435.80" height="340.50" fill="#800000"/>
<path d="M84.1,586.3 L84.2,586.3 L93.1,587.6 L103.6,588.3 L112.8,589.6 L120.0,588.9 L125.9,585.0 L132.4,581.0 L138.3,579.3 L142.9,581.0 L149.5,583.0 L156.0,583.3 L162.6,581.7 L171.8,581.0 L184.9,581.4 L201.9,581.0 L211.1,583.0 L221.6,583.0 L229.4,582.4 L237.3,579.3 L245.2,579.1 L255.4,579.7 L263.3,582.4 L272.4,584.3 L281.6,586.3 L290.8,586.7 L298.6,587.6 L306.5,588.9 L314.4,588.3 L323.6,589.6 L331.4,590.2 L341.9,589.8 L351.1,590.2 L358.9,591.5 L367.9,594.2 L375.7,595.5 L383.6,598.1 L391.5,596.1 L399.3,594.8 L407.2,595.1 L417.7,596.8 L428.2,598.7 L438.6,598.5 L451.8,598.5 L464.9,598.1 L478.0,598.7 L488.5,601.4 L496.3,604.0 L504.2,606.0 L512.1,607.3 L519.9,606.6 L519.9,606.6 L519.9,458.4 L84.1,458.4Z" fill="#fb1206" stroke="rgba(20,30,0,0.45)" stroke-width="0.55" stroke-linejoin="round"/>
<path d="M84.1,671.0 L84.2,671.0 L93.1,669.7 L103.6,669.0 L112.8,667.7 L120.0,668.4 L125.9,672.3 L132.4,676.3 L138.3,678.0 L142.9,676.3 L149.5,674.3 L156.0,674.0 L162.6,675.6 L171.8,676.3 L184.9,675.9 L201.9,676.3 L211.1,674.3 L221.6,674.3 L229.4,674.9 L237.3,678.0 L245.2,678.2 L255.4,677.6 L263.3,674.9 L272.4,673.0 L281.6,671.0 L290.8,670.6 L298.6,669.7 L306.5,668.4 L314.4,669.0 L323.6,667.7 L331.4,667.1 L341.9,667.5 L351.1,667.1 L358.9,665.8 L367.9,663.1 L375.7,661.8 L383.6,659.2 L391.5,661.2 L399.3,662.5 L407.2,662.2 L417.7,660.5 L428.2,658.6 L438.6,658.8 L451.8,658.8 L464.9,659.2 L478.0,658.6 L488.5,655.9 L496.3,653.3 L504.2,651.3 L512.1,650.0 L519.9,650.7 L519.9,650.7 L519.9,798.9 L84.1,798.9Z" fill="#fb1206" stroke="rgba(20,30,0,0.45)" stroke-width="0.55" stroke-linejoin="round"/>
<path d="M84.1,556.8 L84.2,556.8 L87.9,559.4 L93.1,561.8 L103.6,562.0 L112.8,563.4 L120.0,564.7 L124.6,562.0 L131.1,556.8 L137.7,551.8 L148.2,552.6 L158.6,553.1 L165.9,551.6 L171.8,556.1 L178.3,562.0 L182.9,564.9 L187.5,561.4 L192.7,558.8 L203.2,558.1 L212.4,557.1 L219.6,554.4 L224.2,557.5 L229.4,561.4 L237.3,559.4 L243.6,559.7 L254.1,561.4 L264.6,562.0 L272.4,563.4 L280.3,566.0 L290.8,567.9 L298.6,570.6 L306.5,572.5 L311.8,573.2 L317.0,571.9 L324.9,571.2 L335.3,571.2 L343.2,571.9 L349.8,573.2 L357.6,573.2 L370.5,575.8 L381.0,576.5 L391.5,575.1 L400.6,574.9 L409.8,577.1 L419.0,577.8 L428.2,577.1 L438.6,578.8 L449.1,579.7 L459.6,581.0 L470.1,583.0 L480.6,585.6 L489.8,588.9 L497.6,591.5 L504.2,594.2 L512.1,594.8 L519.9,594.5 L519.9,594.5 L519.9,458.4 L84.1,458.4Z" fill="#ff9f08" stroke="rgba(20,30,0,0.45)" stroke-width="0.55" stroke-linejoin="round"/>
<path d="M84.1,700.5 L84.2,700.5 L87.9,697.9 L93.1,695.5 L103.6,695.3 L112.8,693.9 L120.0,692.6 L124.6,695.3 L131.1,700.5 L137.7,705.5 L148.2,704.7 L158.6,704.2 L165.9,705.7 L171.8,701.2 L178.3,695.3 L182.9,692.4 L187.5,695.9 L192.7,698.5 L203.2,699.2 L212.4,700.2 L219.6,702.9 L224.2,699.8 L229.4,695.9 L237.3,697.9 L243.6,697.6 L254.1,695.9 L264.6,695.3 L272.4,693.9 L280.3,691.3 L290.8,689.4 L298.6,686.7 L306.5,684.8 L311.8,684.1 L317.0,685.4 L324.9,686.1 L335.3,686.1 L343.2,685.4 L349.8,684.1 L357.6,684.1 L370.5,681.5 L381.0,680.8 L391.5,682.2 L400.6,682.4 L409.8,680.2 L419.0,679.5 L428.2,680.2 L438.6,678.5 L449.1,677.6 L459.6,676.3 L470.1,674.3 L480.6,671.7 L489.8,668.4 L497.6,665.8 L504.2,663.1 L512.1,662.5 L519.9,662.8 L519.9,662.8 L519.9,798.9 L84.1,798.9Z" fill="#ff9f08" stroke="rgba(20,30,0,0.45)" stroke-width="0.55" stroke-linejoin="round"/>
<path d="M84.2,458.7 L109.1,458.7 L108.6,464.2 L105.6,470.1 L101.0,473.1 L94.4,474.4 L84.2,474.7Z" fill="#fb1206" stroke="rgba(20,30,0,0.45)" stroke-width="0.55" stroke-linejoin="round"/>
<path d="M84.2,798.6 L109.1,798.6 L108.6,793.1 L105.6,787.2 L101.0,784.2 L94.4,782.9 L84.2,782.6Z" fill="#fb1206" stroke="rgba(20,30,0,0.45)" stroke-width="0.55" stroke-linejoin="round"/>
<path d="M141.6,458.7 L141.0,462.9 L137.7,469.4 L132.4,476.0 L129.2,477.9 L121.9,478.6 L116.7,480.6 L108.8,487.8 L99.7,498.3 L92.5,506.1 L88.5,511.4 L89.8,516.0 L93.8,520.5 L95.7,526.4 L99.7,531.7 L104.2,533.0 L109.5,530.4 L114.1,531.0 L120.6,535.0 L127.2,533.4 L132.4,530.4 L136.4,524.5 L138.3,519.2 L141.6,516.0 L145.5,511.4 L146.2,504.8 L146.9,499.6 L149.5,496.3 L156.0,493.7 L165.2,491.7 L174.4,491.4 L177.0,493.7 L176.3,498.3 L174.4,500.9 L169.1,502.8 L162.6,505.5 L157.3,508.7 L153.4,513.3 L152.7,519.2 L155.4,523.8 L158.6,524.5 L163.9,521.9 L170.4,517.9 L175.0,516.6 L177.0,520.5 L178.3,528.4 L180.9,535.0 L184.9,538.9 L190.1,536.9 L195.3,534.3 L201.9,534.7 L208.5,533.6 L216.3,530.4 L224.2,526.4 L232.1,521.2 L239.3,516.6 L240.6,520.5 L241.2,528.4 L243.2,536.3 L246.5,542.2 L250.0,544.8 L257.0,544.1 L263.6,542.2 L271.5,540.9 L278.0,542.2 L283.3,546.8 L289.8,550.0 L296.4,552.7 L305.5,554.0 L314.7,554.0 L322.6,555.3 L329.1,557.9 L334.4,556.6 L342.2,555.9 L351.4,556.6 L356.7,555.9 L361.9,557.9 L368.5,559.9 L375.0,561.8 L380.3,560.5 L386.8,559.2 L394.7,559.9 L402.5,560.9 L410.0,559.9 L417.7,562.5 L422.9,563.8 L430.8,563.1 L438.6,565.3 L449.1,567.3 L458.3,567.5 L468.8,569.2 L478.0,570.6 L485.8,573.2 L493.7,576.5 L501.6,580.1 L509.4,581.0 L519.9,580.7 L519.9,580.7 L519.9,458.4Z" fill="#d3ff2e" stroke="rgba(20,30,0,0.45)" stroke-width="0.55" stroke-linejoin="round"/>
<path d="M141.6,798.6 L141.0,794.4 L137.7,787.9 L132.4,781.3 L129.2,779.4 L121.9,778.7 L116.7,776.7 L108.8,769.5 L99.7,759.0 L92.5,751.2 L88.5,745.9 L89.8,741.3 L93.8,736.8 L95.7,730.9 L99.7,725.6 L104.2,724.3 L109.5,726.9 L114.1,726.3 L120.6,722.3 L127.2,723.9 L132.4,726.9 L136.4,732.8 L138.3,738.1 L141.6,741.3 L145.5,745.9 L146.2,752.5 L146.9,757.7 L149.5,761.0 L156.0,763.6 L165.2,765.6 L174.4,765.9 L177.0,763.6 L176.3,759.0 L174.4,756.4 L169.1,754.5 L162.6,751.8 L157.3,748.6 L153.4,744.0 L152.7,738.1 L155.4,733.5 L158.6,732.8 L163.9,735.4 L170.4,739.4 L175.0,740.7 L177.0,736.8 L178.3,728.9 L180.9,722.3 L184.9,718.4 L190.1,720.4 L195.3,723.0 L201.9,722.6 L208.5,723.7 L216.3,726.9 L224.2,730.9 L232.1,736.1 L239.3,740.7 L240.6,736.8 L241.2,728.9 L243.2,721.0 L246.5,715.1 L250.0,712.5 L257.0,713.2 L263.6,715.1 L271.5,716.4 L278.0,715.1 L283.3,710.5 L289.8,707.3 L296.4,704.6 L305.5,703.3 L314.7,703.3 L322.6,702.0 L329.1,699.4 L334.4,700.7 L342.2,701.4 L351.4,700.7 L356.7,701.4 L361.9,699.4 L368.5,697.4 L375.0,695.5 L380.3,696.8 L386.8,698.1 L394.7,697.4 L402.5,696.4 L410.0,697.4 L417.7,694.8 L422.9,693.5 L430.8,694.2 L438.6,692.0 L449.1,690.0 L458.3,689.8 L468.8,688.1 L478.0,686.7 L485.8,684.1 L493.7,680.8 L501.6,677.2 L509.4,676.3 L519.9,676.6 L519.9,676.6 L519.9,798.9Z" fill="#d3ff2e" stroke="rgba(20,30,0,0.45)" stroke-width="0.55" stroke-linejoin="round"/>
<path d="M180.3,458.7 L179.0,462.9 L176.3,466.8 L171.8,468.1 L163.9,467.5 L153.4,466.5 L148.2,466.8 L144.2,470.7 L139.6,477.3 L135.7,482.5 L137.0,487.1 L140.3,487.1 L148.2,483.2 L158.6,479.9 L169.1,477.3 L179.6,476.6 L191.4,476.0 L198.0,474.7 L205.8,470.7 L213.7,468.1 L221.6,467.1 L228.1,468.1 L234.7,470.7 L241.2,474.7 L246.5,477.9 L248.4,480.6 L245.8,485.1 L241.9,490.4 L242.0,490.4 L247.9,492.4 L255.7,493.0 L263.6,491.0 L272.8,490.7 L280.6,491.0 L285.9,493.0 L287.5,496.9 L285.9,502.2 L281.9,505.5 L275.4,508.1 L272.1,510.7 L274.1,512.7 L279.3,514.0 L284.6,516.0 L288.5,519.2 L289.2,524.5 L289.8,529.1 L293.7,532.3 L299.0,534.3 L304.2,535.0 L310.8,532.3 L317.3,530.8 L321.3,530.4 L325.2,535.0 L329.1,539.5 L334.4,540.9 L342.2,540.9 L351.4,540.9 L358.0,542.2 L364.5,544.1 L369.8,548.1 L375.0,549.6 L380.3,547.4 L384.2,544.8 L390.7,542.2 L397.3,540.2 L403.8,538.2 L410.0,537.6 L411.1,537.6 L413.7,538.9 L410.5,542.2 L407.2,543.9 L415.1,545.4 L422.9,547.4 L430.8,549.4 L438.6,551.3 L449.1,553.3 L457.0,554.4 L464.9,553.0 L472.7,554.0 L481.9,555.9 L491.1,559.2 L497.6,563.1 L502.2,567.3 L509.4,566.6 L519.9,566.0 L519.9,566.0 L519.9,458.4Z" fill="#3dffc2" stroke="rgba(20,30,0,0.45)" stroke-width="0.55" stroke-linejoin="round"/>
<path d="M180.3,798.6 L179.0,794.4 L176.3,790.5 L171.8,789.2 L163.9,789.8 L153.4,790.8 L148.2,790.5 L144.2,786.6 L139.6,780.0 L135.7,774.8 L137.0,770.2 L140.3,770.2 L148.2,774.1 L158.6,777.4 L169.1,780.0 L179.6,780.7 L191.4,781.3 L198.0,782.6 L205.8,786.6 L213.7,789.2 L221.6,790.2 L228.1,789.2 L234.7,786.6 L241.2,782.6 L246.5,779.4 L248.4,776.7 L245.8,772.2 L241.9,766.9 L242.0,766.9 L247.9,764.9 L255.7,764.3 L263.6,766.3 L272.8,766.6 L280.6,766.3 L285.9,764.3 L287.5,760.4 L285.9,755.1 L281.9,751.8 L275.4,749.2 L272.1,746.6 L274.1,744.6 L279.3,743.3 L284.6,741.3 L288.5,738.1 L289.2,732.8 L289.8,728.2 L293.7,725.0 L299.0,723.0 L304.2,722.3 L310.8,725.0 L317.3,726.5 L321.3,726.9 L325.2,722.3 L329.1,717.8 L334.4,716.4 L342.2,716.4 L351.4,716.4 L358.0,715.1 L364.5,713.2 L369.8,709.2 L375.0,707.7 L380.3,709.9 L384.2,712.5 L390.7,715.1 L397.3,717.1 L403.8,719.1 L410.0,719.7 L411.1,719.7 L413.7,718.4 L410.5,715.1 L407.2,713.4 L415.1,711.9 L422.9,709.9 L430.8,707.9 L438.6,706.0 L449.1,704.0 L457.0,702.9 L464.9,704.3 L472.7,703.3 L481.9,701.4 L491.1,698.1 L497.6,694.2 L502.2,690.0 L509.4,690.7 L519.9,691.3 L519.9,691.3 L519.9,798.9Z" fill="#3dffc2" stroke="rgba(20,30,0,0.45)" stroke-width="0.55" stroke-linejoin="round"/>
<path d="M227.9,498.9 L229.4,495.0 L231.4,498.9 L229.7,502.8Z" fill="#3dffc2" stroke="rgba(20,30,0,0.45)" stroke-width="0.55" stroke-linejoin="round"/>
<path d="M227.9,758.4 L229.4,762.3 L231.4,758.4 L229.7,754.5Z" fill="#3dffc2" stroke="rgba(20,30,0,0.45)" stroke-width="0.55" stroke-linejoin="round"/>
<path d="M263.6,523.8 L266.0,521.2 L268.6,523.8 L266.0,526.8Z" fill="#3dffc2" stroke="rgba(20,30,0,0.45)" stroke-width="0.55" stroke-linejoin="round"/>
<path d="M263.6,733.5 L266.0,736.1 L268.6,733.5 L266.0,730.5Z" fill="#3dffc2" stroke="rgba(20,30,0,0.45)" stroke-width="0.55" stroke-linejoin="round"/>
<path d="M116.0,511.1 L120.9,506.4 L121.2,512.2Z" fill="#ff9f08" stroke="rgba(20,30,0,0.45)" stroke-width="0.55" stroke-linejoin="round"/>
<path d="M116.0,746.2 L120.9,750.9 L121.2,745.1Z" fill="#ff9f08" stroke="rgba(20,30,0,0.45)" stroke-width="0.55" stroke-linejoin="round"/>
<path d="M164.7,472.7 L167.0,472.0 L167.0,477.0 L164.9,477.3Z" fill="#00adff" stroke="rgba(20,30,0,0.45)" stroke-width="0.55" stroke-linejoin="round"/>
<path d="M164.7,784.6 L167.0,785.3 L167.0,780.3 L164.9,780.0Z" fill="#00adff" stroke="rgba(20,30,0,0.45)" stroke-width="0.55" stroke-linejoin="round"/>
<path d="M203.1,467.5 L202.7,468.3 L201.9,468.6 L201.1,468.3 L200.7,467.5 L201.1,466.6 L201.9,466.3 L202.7,466.6Z" fill="#00adff" stroke="rgba(20,30,0,0.45)" stroke-width="0.55" stroke-linejoin="round"/>
<path d="M203.1,789.8 L202.7,789.0 L201.9,788.7 L201.1,789.0 L200.7,789.8 L201.1,790.7 L201.9,791.0 L202.7,790.7Z" fill="#00adff" stroke="rgba(20,30,0,0.45)" stroke-width="0.55" stroke-linejoin="round"/>
<path d="M285.9,458.7 L295.7,458.7 L293.7,460.9 L290.5,461.8 L287.2,460.5Z" fill="#d3ff2e" stroke="rgba(20,30,0,0.45)" stroke-width="0.55" stroke-linejoin="round"/>
<path d="M285.9,798.6 L295.7,798.6 L293.7,796.4 L290.5,795.5 L287.2,796.8Z" fill="#d3ff2e" stroke="rgba(20,30,0,0.45)" stroke-width="0.55" stroke-linejoin="round"/>
<path d="M237.4,463.1 L240.0,460.2 L245.2,459.2 L249.8,460.2 L255.7,463.1 L266.2,464.2 L279.3,464.4 L292.4,464.8 L297.7,463.5 L301.6,464.2 L308.2,465.2 L318.6,464.2 L329.1,461.6 L334.4,459.2 L339.6,458.7 L397.4,458.7 L396.7,461.6 L394.7,466.8 L391.5,472.0 L390.1,476.6 L396.7,479.2 L404.6,479.9 L411.8,478.6 L413.1,474.7 L410.5,469.4 L407.2,464.2 L406.5,458.7 L520.2,458.7 L520.2,557.8 L512.1,555.2 L504.2,552.2 L496.3,548.9 L489.8,545.4 L483.2,540.2 L475.3,538.9 L468.8,536.3 L463.6,531.7 L457.0,527.7 L449.1,526.4 L438.6,524.5 L430.8,521.9 L425.5,519.2 L426.9,515.3 L424.2,510.1 L421.6,504.8 L424.9,500.9 L420.3,498.3 L412.4,494.3 L404.6,491.0 L400.0,490.1 L390.7,491.0 L382.9,493.0 L376.3,493.3 L371.1,495.6 L365.8,498.9 L360.6,500.2 L354.0,499.6 L349.5,497.2 L351.4,495.6 L354.7,493.7 L352.7,491.7 L344.9,490.7 L337.0,490.1 L329.1,488.8 L323.9,485.1 L318.6,481.9 L310.8,481.2 L302.9,482.8 L295.1,484.1 L287.2,485.8 L280.6,485.4 L276.0,482.5 L278.0,481.2 L285.9,479.2 L292.4,477.3 L294.4,474.7 L292.4,471.4 L283.3,471.0 L274.1,471.8 L268.2,473.4 L264.9,474.7 L257.0,471.4 L247.9,470.1 L240.0,468.8 L238.0,466.8Z" fill="#00adff" stroke="rgba(20,30,0,0.45)" stroke-width="0.55" stroke-linejoin="round"/>
<path d="M237.4,794.2 L240.0,797.1 L245.2,798.1 L249.8,797.1 L255.7,794.2 L266.2,793.1 L279.3,792.9 L292.4,792.5 L297.7,793.8 L301.6,793.1 L308.2,792.1 L318.6,793.1 L329.1,795.7 L334.4,798.1 L339.6,798.6 L397.4,798.6 L396.7,795.7 L394.7,790.5 L391.5,785.3 L390.1,780.7 L396.7,778.1 L404.6,777.4 L411.8,778.7 L413.1,782.6 L410.5,787.9 L407.2,793.1 L406.5,798.6 L520.2,798.6 L520.2,699.5 L512.1,702.1 L504.2,705.1 L496.3,708.4 L489.8,711.9 L483.2,717.1 L475.3,718.4 L468.8,721.0 L463.6,725.6 L457.0,729.6 L449.1,730.9 L438.6,732.8 L430.8,735.4 L425.5,738.1 L426.9,742.0 L424.2,747.2 L421.6,752.5 L424.9,756.4 L420.3,759.0 L412.4,763.0 L404.6,766.3 L400.0,767.2 L390.7,766.3 L382.9,764.3 L376.3,764.0 L371.1,761.7 L365.8,758.4 L360.6,757.1 L354.0,757.7 L349.5,760.1 L351.4,761.7 L354.7,763.6 L352.7,765.6 L344.9,766.6 L337.0,767.2 L329.1,768.5 L323.9,772.2 L318.6,775.4 L310.8,776.1 L302.9,774.5 L295.1,773.2 L287.2,771.5 L280.6,771.9 L276.0,774.8 L278.0,776.1 L285.9,778.1 L292.4,780.0 L294.4,782.6 L292.4,785.9 L283.3,786.3 L274.1,785.5 L268.2,783.9 L264.9,782.6 L257.0,785.9 L247.9,787.2 L240.0,788.5 L238.0,790.5Z" fill="#00adff" stroke="rgba(20,30,0,0.45)" stroke-width="0.55" stroke-linejoin="round"/>
<path d="M299.0,495.6 L302.9,493.3 L310.8,493.0 L315.4,495.6 L310.8,498.3 L302.9,500.9 L299.6,498.3Z" fill="#00adff" stroke="rgba(20,30,0,0.45)" stroke-width="0.55" stroke-linejoin="round"/>
<path d="M299.0,761.7 L302.9,764.0 L310.8,764.3 L315.4,761.7 L310.8,759.0 L302.9,756.4 L299.6,759.0Z" fill="#00adff" stroke="rgba(20,30,0,0.45)" stroke-width="0.55" stroke-linejoin="round"/>
<path d="M381.6,505.5 L384.2,502.8 L387.5,505.5 L384.2,508.7Z" fill="#00adff" stroke="rgba(20,30,0,0.45)" stroke-width="0.55" stroke-linejoin="round"/>
<path d="M381.6,751.8 L384.2,754.5 L387.5,751.8 L384.2,748.6Z" fill="#00adff" stroke="rgba(20,30,0,0.45)" stroke-width="0.55" stroke-linejoin="round"/>
<path d="M344.9,467.5 L351.4,466.5 L364.5,466.5 L377.6,467.1 L376.3,469.4 L371.1,471.4 L364.5,473.4 L358.0,471.4 L350.1,470.1 L345.5,468.8Z" fill="#3dffc2" stroke="rgba(20,30,0,0.45)" stroke-width="0.55" stroke-linejoin="round"/>
<path d="M344.9,789.8 L351.4,790.8 L364.5,790.8 L377.6,790.2 L376.3,787.9 L371.1,785.9 L364.5,783.9 L358.0,785.9 L350.1,787.2 L345.5,788.5Z" fill="#3dffc2" stroke="rgba(20,30,0,0.45)" stroke-width="0.55" stroke-linejoin="round"/>
<path d="M433.4,458.7 L422.9,460.9 L417.7,463.5 L420.3,466.8 L428.2,470.7 L436.0,474.7 L441.3,476.0 L447.8,474.0 L450.4,470.7 L446.5,466.8 L443.2,462.9 L446.5,460.5 L451.8,460.0 L457.0,461.6 L462.2,464.8 L470.1,467.5 L478.0,468.8 L485.8,470.7 L489.8,472.7 L485.8,474.7 L478.0,472.7 L472.7,471.4 L468.8,473.4 L470.1,478.6 L472.7,485.1 L471.4,489.1 L466.2,491.7 L462.2,487.8 L457.0,483.2 L451.8,480.6 L445.2,478.6 L438.6,480.6 L430.8,480.6 L422.9,479.2 L417.7,480.6 L419.0,483.2 L425.5,484.5 L430.8,486.5 L434.7,490.4 L438.6,493.0 L446.5,494.3 L454.4,496.3 L463.6,498.3 L471.4,500.2 L478.0,502.8 L483.2,506.1 L487.1,511.4 L491.1,516.6 L493.7,519.9 L491.1,524.5 L492.4,527.7 L498.9,530.4 L506.8,531.0 L512.1,533.6 L514.7,538.2 L520.2,538.9 L520.2,458.7Z" fill="#0018ff" stroke="rgba(20,30,0,0.45)" stroke-width="0.55" stroke-linejoin="round"/>
<path d="M433.4,798.6 L422.9,796.4 L417.7,793.8 L420.3,790.5 L428.2,786.6 L436.0,782.6 L441.3,781.3 L447.8,783.3 L450.4,786.6 L446.5,790.5 L443.2,794.4 L446.5,796.8 L451.8,797.3 L457.0,795.7 L462.2,792.5 L470.1,789.8 L478.0,788.5 L485.8,786.6 L489.8,784.6 L485.8,782.6 L478.0,784.6 L472.7,785.9 L468.8,783.9 L470.1,778.7 L472.7,772.2 L471.4,768.2 L466.2,765.6 L462.2,769.5 L457.0,774.1 L451.8,776.7 L445.2,778.7 L438.6,776.7 L430.8,776.7 L422.9,778.1 L417.7,776.7 L419.0,774.1 L425.5,772.8 L430.8,770.8 L434.7,766.9 L438.6,764.3 L446.5,763.0 L454.4,761.0 L463.6,759.0 L471.4,757.1 L478.0,754.5 L483.2,751.2 L487.1,745.9 L491.1,740.7 L493.7,737.4 L491.1,732.8 L492.4,729.6 L498.9,726.9 L506.8,726.3 L512.1,723.7 L514.7,719.1 L520.2,718.4 L520.2,798.6Z" fill="#0018ff" stroke="rgba(20,30,0,0.45)" stroke-width="0.55" stroke-linejoin="round"/>
<path d="M307.0,468.1 L306.6,469.1 L305.4,470.0 L303.6,470.4 L301.7,470.4 L300.0,470.0 L298.8,469.1 L298.3,468.1 L298.8,467.1 L300.0,466.3 L301.7,465.8 L303.6,465.8 L305.4,466.3 L306.6,467.1Z" fill="#0018ff" stroke="rgba(20,30,0,0.45)" stroke-width="0.55" stroke-linejoin="round"/>
<path d="M307.0,789.2 L306.6,788.2 L305.4,787.3 L303.6,786.9 L301.7,786.9 L300.0,787.3 L298.8,788.2 L298.3,789.2 L298.8,790.2 L300.0,791.0 L301.7,791.5 L303.6,791.5 L305.4,791.0 L306.6,790.2Z" fill="#0018ff" stroke="rgba(20,30,0,0.45)" stroke-width="0.55" stroke-linejoin="round"/>
<path d="M305.4,476.9 L305.1,477.9 L304.3,478.7 L303.2,479.2 L301.9,479.2 L300.7,478.7 L299.9,477.9 L299.6,476.9 L299.9,475.9 L300.7,475.0 L301.9,474.6 L303.2,474.6 L304.3,475.0 L305.1,475.9Z" fill="#0018ff" stroke="rgba(20,30,0,0.45)" stroke-width="0.55" stroke-linejoin="round"/>
<path d="M305.4,780.4 L305.1,779.4 L304.3,778.6 L303.2,778.1 L301.9,778.1 L300.7,778.6 L299.9,779.4 L299.6,780.4 L299.9,781.4 L300.7,782.3 L301.9,782.7 L303.2,782.7 L304.3,782.3 L305.1,781.4Z" fill="#0018ff" stroke="rgba(20,30,0,0.45)" stroke-width="0.55" stroke-linejoin="round"/>
<path d="M329.1,481.2 L331.8,477.3 L337.0,474.7 L344.9,474.0 L351.4,476.0 L352.7,478.6 L347.5,481.2 L339.6,482.3 L331.8,482.8Z" fill="#0018ff" stroke="rgba(20,30,0,0.45)" stroke-width="0.55" stroke-linejoin="round"/>
<path d="M329.1,776.1 L331.8,780.0 L337.0,782.6 L344.9,783.3 L351.4,781.3 L352.7,778.7 L347.5,776.1 L339.6,775.0 L331.8,774.5Z" fill="#0018ff" stroke="rgba(20,30,0,0.45)" stroke-width="0.55" stroke-linejoin="round"/>
<path d="M379.6,481.9 L384.2,479.6 L390.7,479.9 L395.3,481.9 L390.7,484.1 L385.5,485.1 L381.6,484.1Z" fill="#0018ff" stroke="rgba(20,30,0,0.45)" stroke-width="0.55" stroke-linejoin="round"/>
<path d="M379.6,775.4 L384.2,777.7 L390.7,777.4 L395.3,775.4 L390.7,773.2 L385.5,772.2 L381.6,773.2Z" fill="#0018ff" stroke="rgba(20,30,0,0.45)" stroke-width="0.55" stroke-linejoin="round"/>
<path d="M272.8,467.7 L271.9,468.1 L269.3,468.3 L265.6,468.5 L261.6,468.5 L257.9,468.3 L255.3,468.1 L254.4,467.7 L255.3,467.4 L257.9,467.1 L261.6,466.9 L265.6,466.9 L269.3,467.1 L271.9,467.4Z" fill="#0018ff" stroke="rgba(20,30,0,0.45)" stroke-width="0.55" stroke-linejoin="round"/>
<path d="M272.8,789.6 L271.9,789.2 L269.3,789.0 L265.6,788.8 L261.6,788.8 L257.9,789.0 L255.3,789.2 L254.4,789.6 L255.3,789.9 L257.9,790.2 L261.6,790.4 L265.6,790.4 L269.3,790.2 L271.9,789.9Z" fill="#0018ff" stroke="rgba(20,30,0,0.45)" stroke-width="0.55" stroke-linejoin="round"/>
<path d="M466.2,505.9 L465.6,506.4 L464.0,506.9 L461.6,507.1 L459.0,507.1 L456.6,506.9 L455.0,506.4 L454.4,505.9 L455.0,505.3 L456.6,504.8 L459.0,504.6 L461.6,504.6 L464.0,504.8 L465.6,505.3Z" fill="#0018ff" stroke="rgba(20,30,0,0.45)" stroke-width="0.55" stroke-linejoin="round"/>
<path d="M466.2,751.4 L465.6,750.9 L464.0,750.4 L461.6,750.2 L459.0,750.2 L456.6,750.4 L455.0,750.9 L454.4,751.4 L455.0,752.0 L456.6,752.5 L459.0,752.7 L461.6,752.7 L464.0,752.5 L465.6,752.0Z" fill="#0018ff" stroke="rgba(20,30,0,0.45)" stroke-width="0.55" stroke-linejoin="round"/>
<path d="M486.8,481.9 L486.5,482.6 L485.7,483.1 L484.5,483.4 L483.2,483.4 L482.1,483.1 L481.3,482.6 L481.0,481.9 L481.3,481.2 L482.1,480.6 L483.2,480.3 L484.5,480.3 L485.7,480.6 L486.5,481.2Z" fill="#00adff" stroke="rgba(20,30,0,0.45)" stroke-width="0.55" stroke-linejoin="round"/>
<path d="M486.8,775.4 L486.5,774.7 L485.7,774.2 L484.5,773.9 L483.2,773.9 L482.1,774.2 L481.3,774.7 L481.0,775.4 L481.3,776.1 L482.1,776.7 L483.2,777.0 L484.5,777.0 L485.7,776.7 L486.5,776.1Z" fill="#00adff" stroke="rgba(20,30,0,0.45)" stroke-width="0.55" stroke-linejoin="round"/>
<path d="M477.2,497.2 L477.0,498.0 L476.5,498.6 L475.8,499.0 L474.9,499.0 L474.2,498.6 L473.7,498.0 L473.5,497.2 L473.7,496.4 L474.2,495.8 L474.9,495.4 L475.8,495.4 L476.5,495.8 L477.0,496.4Z" fill="#00adff" stroke="rgba(20,30,0,0.45)" stroke-width="0.55" stroke-linejoin="round"/>
<path d="M477.2,760.1 L477.0,759.3 L476.5,758.7 L475.8,758.3 L474.9,758.3 L474.2,758.7 L473.7,759.3 L473.5,760.1 L473.7,760.9 L474.2,761.5 L474.9,761.9 L475.8,761.9 L476.5,761.5 L477.0,760.9Z" fill="#00adff" stroke="rgba(20,30,0,0.45)" stroke-width="0.55" stroke-linejoin="round"/>
<path d="M503.5,491.4 L503.1,492.3 L502.1,493.1 L500.5,493.5 L498.7,493.5 L497.1,493.1 L496.1,492.3 L495.7,491.4 L496.1,490.5 L497.1,489.8 L498.7,489.4 L500.5,489.4 L502.1,489.8 L503.1,490.5Z" fill="#00008f" stroke="rgba(20,30,0,0.45)" stroke-width="0.55" stroke-linejoin="round"/>
<path d="M503.5,765.9 L503.1,765.0 L502.1,764.2 L500.5,763.8 L498.7,763.8 L497.1,764.2 L496.1,765.0 L495.7,765.9 L496.1,766.8 L497.1,767.5 L498.7,767.9 L500.5,767.9 L502.1,767.5 L503.1,766.8Z" fill="#00008f" stroke="rgba(20,30,0,0.45)" stroke-width="0.55" stroke-linejoin="round"/>
</g>
<text x="81.50" y="462.90" font-size="12.2" text-anchor="end" fill="#1a1a1a"  stroke="#1a1a1a" stroke-width="0.2">180°</text>
<text x="81.50" y="491.27" font-size="12.2" text-anchor="end" fill="#1a1a1a"  stroke="#1a1a1a" stroke-width="0.2">150°</text>
<text x="81.50" y="519.65" font-size="12.2" text-anchor="end" fill="#1a1a1a"  stroke="#1a1a1a" stroke-width="0.2">120°</text>
<text x="81.50" y="548.02" font-size="12.2" text-anchor="end" fill="#1a1a1a"  stroke="#1a1a1a" stroke-width="0.2">90°</text>
<text x="81.50" y="576.40" font-size="12.2" text-anchor="end" fill="#1a1a1a"  stroke="#1a1a1a" stroke-width="0.2">60°</text>
<text x="81.50" y="604.77" font-size="12.2" text-anchor="end" fill="#1a1a1a"  stroke="#1a1a1a" stroke-width="0.2">30°</text>
<text x="81.50" y="633.15" font-size="12.2" text-anchor="end" fill="#1a1a1a"  stroke="#1a1a1a" stroke-width="0.2">0°</text>
<text x="81.50" y="661.52" font-size="12.2" text-anchor="end" fill="#1a1a1a"  stroke="#1a1a1a" stroke-width="0.2">-30°</text>
<text x="81.50" y="689.90" font-size="12.2" text-anchor="end" fill="#1a1a1a"  stroke="#1a1a1a" stroke-width="0.2">-60°</text>
<text x="81.50" y="718.27" font-size="12.2" text-anchor="end" fill="#1a1a1a"  stroke="#1a1a1a" stroke-width="0.2">-90°</text>
<text x="81.50" y="746.65" font-size="12.2" text-anchor="end" fill="#1a1a1a"  stroke="#1a1a1a" stroke-width="0.2">-120°</text>
<text x="81.50" y="775.02" font-size="12.2" text-anchor="end" fill="#1a1a1a"  stroke="#1a1a1a" stroke-width="0.2">-150°</text>
<text x="81.50" y="803.40" font-size="12.2" text-anchor="end" fill="#1a1a1a"  stroke="#1a1a1a" stroke-width="0.2">-180°</text>
<text x="84.10" y="812.50" font-size="12.4" text-anchor="middle" fill="#1a1a1a"  stroke="#1a1a1a" stroke-width="0.2">1</text>
<text x="193.05" y="812.50" font-size="12.4" text-anchor="middle" fill="#1a1a1a"  stroke="#1a1a1a" stroke-width="0.2">2</text>
<text x="337.07" y="812.50" font-size="12.4" text-anchor="middle" fill="#1a1a1a"  stroke="#1a1a1a" stroke-width="0.2">5</text>
<text x="446.02" y="812.50" font-size="12.4" text-anchor="middle" fill="#1a1a1a"  stroke="#1a1a1a" stroke-width="0.2">10</text>
<text x="519.90" y="812.50" font-size="12.4" text-anchor="middle" fill="#1a1a1a"  stroke="#1a1a1a" stroke-width="0.2">16</text>
<text x="301.50" y="827.00" font-size="15" text-anchor="middle" fill="#1a1a1a"  stroke="#1a1a1a" stroke-width="0.2">Frequency (kHz)</text>
<text transform="translate(44.8,628.65) rotate(-90)" font-size="15.2" text-anchor="middle" fill="#1a1a1a" stroke="#1a1a1a" stroke-width="0.2">Horizontal angle</text>
<rect x="529.8" y="458.4" width="12.60" height="340.50" fill="url(#jet)"/>
<text x="545.00" y="462.80" font-size="12.4" text-anchor="start" fill="#1a1a1a"  stroke="#1a1a1a" stroke-width="0.2">-6</text>
<text x="545.00" y="511.44" font-size="12.4" text-anchor="start" fill="#1a1a1a"  stroke="#1a1a1a" stroke-width="0.2">-12</text>
<text x="545.00" y="560.09" font-size="12.4" text-anchor="start" fill="#1a1a1a"  stroke="#1a1a1a" stroke-width="0.2">-18</text>
<text x="545.00" y="608.73" font-size="12.4" text-anchor="start" fill="#1a1a1a"  stroke="#1a1a1a" stroke-width="0.2">-24</text>
<text x="545.00" y="657.37" font-size="12.4" text-anchor="start" fill="#1a1a1a"  stroke="#1a1a1a" stroke-width="0.2">-30</text>
<text x="545.00" y="706.01" font-size="12.4" text-anchor="start" fill="#1a1a1a"  stroke="#1a1a1a" stroke-width="0.2">-36</text>
<text x="545.00" y="754.66" font-size="12.4" text-anchor="start" fill="#1a1a1a"  stroke="#1a1a1a" stroke-width="0.2">-42</text>
<text x="545.00" y="803.30" font-size="12.4" text-anchor="start" fill="#1a1a1a"  stroke="#1a1a1a" stroke-width="0.2">-48</text>
<text x="528.30" y="456.40" font-size="12.4" text-anchor="start" fill="#1a1a1a"  stroke="#1a1a1a" stroke-width="0.2">dB</text>
<clipPath id="clipR"><rect x="766.2" y="458.4" width="435.90" height="340.50"/></clipPath>
<g clip-path="url(#clipR)">
<rect x="766.2" y="458.4" width="435.90" height="340.50" fill="#800000"/>
<path d="M766.2,581.0 L766.2,581.0 L772.5,583.0 L779.0,584.3 L788.2,583.7 L796.1,584.3 L803.9,587.6 L811.8,590.2 L819.7,592.2 L827.5,594.8 L835.4,596.4 L843.3,597.4 L851.1,599.4 L859.0,602.0 L866.9,604.0 L874.7,605.3 L885.2,606.0 L893.1,607.3 L900.9,608.6 L911.4,609.2 L921.9,609.2 L932.5,609.5 L943.0,610.5 L953.5,612.5 L963.9,614.5 L974.4,615.8 L987.5,617.1 L1000.6,617.7 L1013.8,618.4 L1026.9,619.5 L1040.0,620.4 L1042.0,620.8 L1055.1,621.3 L1068.2,622.1 L1081.3,622.6 L1094.4,623.3 L1107.5,623.6 L1120.6,624.0 L1133.8,624.4 L1146.9,625.0 L1160.0,625.4 L1173.1,625.9 L1186.2,626.3 L1196.7,626.5 L1202.2,626.8 L1202.1,626.8 L1202.1,458.4 L766.2,458.4Z" fill="#fb1206" stroke="rgba(20,30,0,0.45)" stroke-width="0.55" stroke-linejoin="round"/>
<path d="M766.2,676.3 L766.2,676.3 L772.5,674.3 L779.0,673.0 L788.2,673.6 L796.1,673.0 L803.9,669.7 L811.8,667.1 L819.7,665.1 L827.5,662.5 L835.4,660.9 L843.3,659.9 L851.1,657.9 L859.0,655.3 L866.9,653.3 L874.7,652.0 L885.2,651.3 L893.1,650.0 L900.9,648.7 L911.4,648.1 L921.9,648.1 L932.5,647.8 L943.0,646.8 L953.5,644.8 L963.9,642.8 L974.4,641.5 L987.5,640.2 L1000.6,639.6 L1013.8,638.9 L1026.9,637.8 L1040.0,636.9 L1042.0,636.5 L1055.1,636.0 L1068.2,635.2 L1081.3,634.7 L1094.4,634.0 L1107.5,633.7 L1120.6,633.3 L1133.8,632.9 L1146.9,632.3 L1160.0,631.9 L1173.1,631.4 L1186.2,631.0 L1196.7,630.8 L1202.2,630.5 L1202.1,630.5 L1202.1,798.9 L766.2,798.9Z" fill="#fb1206" stroke="rgba(20,30,0,0.45)" stroke-width="0.55" stroke-linejoin="round"/>
<path d="M766.2,557.8 L766.2,557.8 L772.5,559.4 L779.0,562.0 L784.9,563.4 L792.1,561.0 L798.7,563.4 L803.9,567.9 L811.8,572.5 L819.7,575.8 L826.2,579.7 L830.2,581.7 L838.0,581.0 L845.9,583.7 L853.8,585.6 L859.0,589.6 L865.6,593.5 L873.4,595.5 L882.6,597.4 L893.1,599.4 L900.9,602.0 L908.8,602.0 L919.3,602.7 L932.5,604.0 L943.0,605.3 L953.5,607.7 L963.9,609.9 L974.4,611.6 L984.9,613.2 L995.4,614.5 L1007.2,615.8 L1020.3,616.8 L1033.4,617.7 L1042.0,618.4 L1055.1,618.8 L1068.2,619.2 L1081.3,619.7 L1094.4,620.2 L1107.5,620.6 L1120.6,620.8 L1133.8,620.0 L1144.2,618.7 L1153.4,618.1 L1146.9,616.8 L1141.6,615.8 L1133.8,614.2 L1125.9,612.9 L1118.0,611.9 L1110.2,611.2 L1102.3,610.5 L1094.4,609.2 L1087.9,607.7 L1080.0,606.6 L1072.1,605.3 L1064.3,604.2 L1056.4,604.0 L1049.9,602.0 L1045.9,598.7 L1044.6,594.8 L1047.2,590.9 L1052.5,589.3 L1059.0,589.8 L1065.6,592.8 L1072.1,595.5 L1080.0,596.8 L1087.9,597.4 L1097.1,598.5 L1103.6,599.8 L1110.2,602.7 L1116.7,604.6 L1125.9,606.6 L1133.8,607.7 L1141.6,608.2 L1149.5,609.2 L1157.3,611.2 L1165.2,613.2 L1173.1,614.5 L1180.9,614.2 L1188.8,614.5 L1196.7,615.8 L1202.2,616.4 L1202.1,616.4 L1202.1,458.4 L766.2,458.4Z" fill="#ff9f08" stroke="rgba(20,30,0,0.45)" stroke-width="0.55" stroke-linejoin="round"/>
<path d="M766.2,699.5 L766.2,699.5 L772.5,697.9 L779.0,695.3 L784.9,693.9 L792.1,696.3 L798.7,693.9 L803.9,689.4 L811.8,684.8 L819.7,681.5 L826.2,677.6 L830.2,675.6 L838.0,676.3 L845.9,673.6 L853.8,671.7 L859.0,667.7 L865.6,663.8 L873.4,661.8 L882.6,659.9 L893.1,657.9 L900.9,655.3 L908.8,655.3 L919.3,654.6 L932.5,653.3 L943.0,652.0 L953.5,649.6 L963.9,647.4 L974.4,645.7 L984.9,644.1 L995.4,642.8 L1007.2,641.5 L1020.3,640.5 L1033.4,639.6 L1042.0,638.9 L1055.1,638.5 L1068.2,638.1 L1081.3,637.6 L1094.4,637.1 L1107.5,636.7 L1120.6,636.5 L1133.8,637.3 L1144.2,638.6 L1153.4,639.2 L1146.9,640.5 L1141.6,641.5 L1133.8,643.1 L1125.9,644.4 L1118.0,645.4 L1110.2,646.1 L1102.3,646.8 L1094.4,648.1 L1087.9,649.6 L1080.0,650.7 L1072.1,652.0 L1064.3,653.1 L1056.4,653.3 L1049.9,655.3 L1045.9,658.6 L1044.6,662.5 L1047.2,666.4 L1052.5,668.0 L1059.0,667.5 L1065.6,664.5 L1072.1,661.8 L1080.0,660.5 L1087.9,659.9 L1097.1,658.8 L1103.6,657.5 L1110.2,654.6 L1116.7,652.7 L1125.9,650.7 L1133.8,649.6 L1141.6,649.1 L1149.5,648.1 L1157.3,646.1 L1165.2,644.1 L1173.1,642.8 L1180.9,643.1 L1188.8,642.8 L1196.7,641.5 L1202.2,640.9 L1202.1,640.9 L1202.1,798.9 L766.2,798.9Z" fill="#ff9f08" stroke="rgba(20,30,0,0.45)" stroke-width="0.55" stroke-linejoin="round"/>
<path d="M766.2,458.7 L787.6,458.7 L786.9,464.8 L784.3,470.1 L779.0,473.4 L772.5,475.3 L766.2,475.7Z" fill="#fb1206" stroke="rgba(20,30,0,0.45)" stroke-width="0.55" stroke-linejoin="round"/>
<path d="M766.2,798.6 L787.6,798.6 L786.9,792.5 L784.3,787.2 L779.0,783.9 L772.5,782.0 L766.2,781.6Z" fill="#fb1206" stroke="rgba(20,30,0,0.45)" stroke-width="0.55" stroke-linejoin="round"/>
<path d="M1186.2,604.6 L1191.4,602.0 L1196.7,601.4 L1202.2,601.4 L1202.2,608.2 L1196.7,607.9 L1191.4,606.6Z" fill="#fb1206" stroke="rgba(20,30,0,0.45)" stroke-width="0.55" stroke-linejoin="round"/>
<path d="M1186.2,652.7 L1191.4,655.3 L1196.7,655.9 L1202.2,655.9 L1202.2,649.1 L1196.7,649.4 L1191.4,650.7Z" fill="#fb1206" stroke="rgba(20,30,0,0.45)" stroke-width="0.55" stroke-linejoin="round"/>
<path d="M1090.2,585.1 L1097.6,585.4 L1093.9,591.4Z" fill="#b80600" stroke="rgba(20,30,0,0.45)" stroke-width="0.55" stroke-linejoin="round"/>
<path d="M1090.2,672.2 L1097.6,671.9 L1093.9,665.9Z" fill="#b80600" stroke="rgba(20,30,0,0.45)" stroke-width="0.55" stroke-linejoin="round"/>
<path d="M1167.4,583.0 L1167.0,584.5 L1165.9,585.1 L1164.8,584.5 L1164.3,583.0 L1164.8,581.5 L1165.9,580.9 L1167.0,581.5Z" fill="#c81000" stroke="rgba(20,30,0,0.45)" stroke-width="0.55" stroke-linejoin="round"/>
<path d="M1167.4,674.3 L1167.0,672.8 L1165.9,672.2 L1164.8,672.8 L1164.3,674.3 L1164.8,675.8 L1165.9,676.4 L1167.0,675.8Z" fill="#c81000" stroke="rgba(20,30,0,0.45)" stroke-width="0.55" stroke-linejoin="round"/>
<path d="M1090.2,585.6 L1092.4,584.3 L1092.4,590.2 L1090.4,589.3Z" fill="#fb1206" stroke="rgba(20,30,0,0.45)" stroke-width="0.55" stroke-linejoin="round"/>
<path d="M1090.2,671.7 L1092.4,673.0 L1092.4,667.1 L1090.4,668.0Z" fill="#fb1206" stroke="rgba(20,30,0,0.45)" stroke-width="0.55" stroke-linejoin="round"/>
<path d="M823.6,458.7 L823.0,464.8 L821.6,470.7 L818.4,475.3 L811.8,479.2 L803.9,481.9 L796.1,484.5 L788.2,489.1 L781.7,493.7 L775.1,496.7 L766.2,498.3 L766.2,538.9 L775.1,535.6 L785.6,534.3 L796.1,533.6 L802.6,533.4 L806.6,537.6 L811.8,544.1 L817.1,550.2 L821.6,555.5 L823.6,562.0 L827.5,567.3 L831.5,569.9 L838.0,568.6 L843.3,571.2 L847.9,574.5 L852.4,571.2 L854.4,564.7 L855.1,555.5 L856.4,548.9 L858.3,545.4 L860.3,541.5 L865.6,538.2 L872.1,537.6 L878.7,540.2 L883.9,545.4 L889.1,541.5 L894.4,536.9 L900.9,531.0 L904.9,532.3 L908.8,537.6 L914.1,545.4 L919.3,550.7 L922.0,552.9 L925.9,554.2 L929.2,558.1 L931.8,564.7 L934.5,570.6 L938.4,573.2 L942.3,568.6 L945.6,564.0 L948.2,562.7 L953.5,566.0 L960.0,569.9 L966.6,572.5 L973.1,573.2 L975.1,576.5 L973.8,581.7 L973.1,585.6 L977.1,588.9 L983.6,590.2 L990.2,590.9 L995.4,594.2 L1000.6,596.8 L1007.2,598.1 L1013.8,600.1 L1020.3,601.4 L1026.9,602.7 L1034.7,602.7 L1040.0,601.4 L1041.3,598.7 L1037.3,596.8 L1032.1,594.8 L1026.9,594.2 L1021.6,594.8 L1016.4,593.5 L1011.1,590.9 L1007.2,586.9 L1003.3,583.0 L998.0,579.7 L993.4,576.5 L991.5,571.2 L993.4,566.0 L996.7,566.6 L1002.0,569.2 L1008.5,569.2 L1013.8,570.6 L1019.0,574.5 L1022.9,578.4 L1026.9,581.7 L1029.5,583.7 L1036.0,583.7 L1043.9,583.7 L1050.5,584.3 L1057.0,585.6 L1063.6,588.3 L1070.1,590.9 L1075.4,591.5 L1080.0,590.9 L1081.3,588.3 L1079.0,584.3 L1079.4,578.4 L1081.3,572.5 L1083.9,569.2 L1089.2,568.6 L1093.1,570.6 L1095.1,575.1 L1099.7,578.4 L1104.9,581.0 L1110.2,584.3 L1114.1,586.9 L1119.3,585.6 L1123.3,586.9 L1124.6,590.2 L1122.6,594.2 L1118.0,596.8 L1112.8,598.7 L1115.4,600.7 L1122.0,602.0 L1131.1,602.7 L1137.7,601.1 L1139.7,602.7 L1141.6,605.3 L1146.9,606.3 L1153.4,604.6 L1158.7,601.4 L1156.0,598.1 L1152.1,595.5 L1154.7,593.5 L1160.0,590.9 L1156.0,590.2 L1149.5,590.2 L1147.9,586.9 L1148.8,581.7 L1152.1,577.8 L1156.0,573.2 L1159.3,569.2 L1162.6,564.7 L1165.9,561.4 L1167.8,564.7 L1166.5,569.9 L1169.8,573.2 L1174.4,576.5 L1178.3,580.4 L1180.9,584.3 L1184.9,587.6 L1191.4,588.3 L1196.7,588.0 L1202.2,588.9 L1202.1,588.9 L1202.1,458.4Z" fill="#d3ff2e" stroke="rgba(20,30,0,0.45)" stroke-width="0.55" stroke-linejoin="round"/>
<path d="M823.6,798.6 L823.0,792.5 L821.6,786.6 L818.4,782.0 L811.8,778.1 L803.9,775.4 L796.1,772.8 L788.2,768.2 L781.7,763.6 L775.1,760.6 L766.2,759.0 L766.2,718.4 L775.1,721.7 L785.6,723.0 L796.1,723.7 L802.6,723.9 L806.6,719.7 L811.8,713.2 L817.1,707.1 L821.6,701.8 L823.6,695.3 L827.5,690.0 L831.5,687.4 L838.0,688.7 L843.3,686.1 L847.9,682.8 L852.4,686.1 L854.4,692.6 L855.1,701.8 L856.4,708.4 L858.3,711.9 L860.3,715.8 L865.6,719.1 L872.1,719.7 L878.7,717.1 L883.9,711.9 L889.1,715.8 L894.4,720.4 L900.9,726.3 L904.9,725.0 L908.8,719.7 L914.1,711.9 L919.3,706.6 L922.0,704.4 L925.9,703.1 L929.2,699.2 L931.8,692.6 L934.5,686.7 L938.4,684.1 L942.3,688.7 L945.6,693.3 L948.2,694.6 L953.5,691.3 L960.0,687.4 L966.6,684.8 L973.1,684.1 L975.1,680.8 L973.8,675.6 L973.1,671.7 L977.1,668.4 L983.6,667.1 L990.2,666.4 L995.4,663.1 L1000.6,660.5 L1007.2,659.2 L1013.8,657.2 L1020.3,655.9 L1026.9,654.6 L1034.7,654.6 L1040.0,655.9 L1041.3,658.6 L1037.3,660.5 L1032.1,662.5 L1026.9,663.1 L1021.6,662.5 L1016.4,663.8 L1011.1,666.4 L1007.2,670.4 L1003.3,674.3 L998.0,677.6 L993.4,680.8 L991.5,686.1 L993.4,691.3 L996.7,690.7 L1002.0,688.1 L1008.5,688.1 L1013.8,686.7 L1019.0,682.8 L1022.9,678.9 L1026.9,675.6 L1029.5,673.6 L1036.0,673.6 L1043.9,673.6 L1050.5,673.0 L1057.0,671.7 L1063.6,669.0 L1070.1,666.4 L1075.4,665.8 L1080.0,666.4 L1081.3,669.0 L1079.0,673.0 L1079.4,678.9 L1081.3,684.8 L1083.9,688.1 L1089.2,688.7 L1093.1,686.7 L1095.1,682.2 L1099.7,678.9 L1104.9,676.3 L1110.2,673.0 L1114.1,670.4 L1119.3,671.7 L1123.3,670.4 L1124.6,667.1 L1122.6,663.1 L1118.0,660.5 L1112.8,658.6 L1115.4,656.6 L1122.0,655.3 L1131.1,654.6 L1137.7,656.2 L1139.7,654.6 L1141.6,652.0 L1146.9,651.0 L1153.4,652.7 L1158.7,655.9 L1156.0,659.2 L1152.1,661.8 L1154.7,663.8 L1160.0,666.4 L1156.0,667.1 L1149.5,667.1 L1147.9,670.4 L1148.8,675.6 L1152.1,679.5 L1156.0,684.1 L1159.3,688.1 L1162.6,692.6 L1165.9,695.9 L1167.8,692.6 L1166.5,687.4 L1169.8,684.1 L1174.4,680.8 L1178.3,676.9 L1180.9,673.0 L1184.9,669.7 L1191.4,669.0 L1196.7,669.3 L1202.2,668.4 L1202.1,668.4 L1202.1,798.9Z" fill="#d3ff2e" stroke="rgba(20,30,0,0.45)" stroke-width="0.55" stroke-linejoin="round"/>
<path d="M853.8,487.8 L856.4,484.5 L862.9,483.2 L870.8,484.9 L876.0,489.7 L875.4,495.6 L872.8,502.2 L868.8,510.1 L865.6,514.6 L860.3,513.3 L856.4,508.7 L854.4,500.9 L853.5,494.3Z" fill="#ff9f08" stroke="rgba(20,30,0,0.45)" stroke-width="0.55" stroke-linejoin="round"/>
<path d="M853.8,769.5 L856.4,772.8 L862.9,774.1 L870.8,772.4 L876.0,767.6 L875.4,761.7 L872.8,755.1 L868.8,747.2 L865.6,742.7 L860.3,744.0 L856.4,748.6 L854.4,756.4 L853.5,763.0Z" fill="#ff9f08" stroke="rgba(20,30,0,0.45)" stroke-width="0.55" stroke-linejoin="round"/>
<path d="M1053.8,568.6 L1055.8,564.0 L1058.4,564.7 L1062.3,568.6 L1066.2,573.2 L1068.9,577.8 L1067.6,581.7 L1062.3,581.0 L1057.1,577.8 L1054.5,573.8Z" fill="#ff9f08" stroke="rgba(20,30,0,0.45)" stroke-width="0.55" stroke-linejoin="round"/>
<path d="M1053.8,688.7 L1055.8,693.3 L1058.4,692.6 L1062.3,688.7 L1066.2,684.1 L1068.9,679.5 L1067.6,675.6 L1062.3,676.3 L1057.1,679.5 L1054.5,683.5Z" fill="#ff9f08" stroke="rgba(20,30,0,0.45)" stroke-width="0.55" stroke-linejoin="round"/>
<path d="M864.9,582.4 L868.2,579.1 L874.7,575.8 L880.0,573.2 L881.9,567.9 L883.9,564.7 L885.9,568.6 L885.9,575.1 L888.5,580.4 L893.1,585.6 L899.6,590.2 L906.2,593.5 L907.5,595.5 L902.3,597.4 L893.1,595.5 L885.2,592.8 L877.3,590.2 L869.5,586.9 L865.6,585.0Z" fill="#d3ff2e" stroke="rgba(20,30,0,0.45)" stroke-width="0.55" stroke-linejoin="round"/>
<path d="M864.9,674.9 L868.2,678.2 L874.7,681.5 L880.0,684.1 L881.9,689.4 L883.9,692.6 L885.9,688.7 L885.9,682.2 L888.5,676.9 L893.1,671.7 L899.6,667.1 L906.2,663.8 L907.5,661.8 L902.3,659.9 L893.1,661.8 L885.2,664.5 L877.3,667.1 L869.5,670.4 L865.6,672.3Z" fill="#d3ff2e" stroke="rgba(20,30,0,0.45)" stroke-width="0.55" stroke-linejoin="round"/>
<path d="M946.2,600.1 L952.1,598.1 L960.0,598.7 L966.6,601.4 L973.1,604.0 L974.4,605.3 L967.9,606.3 L960.0,606.0 L953.5,604.6 L948.2,602.7Z" fill="#d3ff2e" stroke="rgba(20,30,0,0.45)" stroke-width="0.55" stroke-linejoin="round"/>
<path d="M946.2,657.2 L952.1,659.2 L960.0,658.6 L966.6,655.9 L973.1,653.3 L974.4,652.0 L967.9,651.0 L960.0,651.3 L953.5,652.7 L948.2,654.6Z" fill="#d3ff2e" stroke="rgba(20,30,0,0.45)" stroke-width="0.55" stroke-linejoin="round"/>
<path d="M990.8,609.2 L995.4,607.3 L1005.9,606.6 L1013.8,607.9 L1014.4,609.9 L1009.8,611.6 L1000.6,611.9 L993.4,611.2Z" fill="#d3ff2e" stroke="rgba(20,30,0,0.45)" stroke-width="0.55" stroke-linejoin="round"/>
<path d="M990.8,648.1 L995.4,650.0 L1005.9,650.7 L1013.8,649.4 L1014.4,647.4 L1009.8,645.7 L1000.6,645.4 L993.4,646.1Z" fill="#d3ff2e" stroke="rgba(20,30,0,0.45)" stroke-width="0.55" stroke-linejoin="round"/>
<path d="M1034.7,613.8 L1040.0,612.1 L1046.5,613.8 L1041.3,615.8 L1036.0,615.5Z" fill="#d3ff2e" stroke="rgba(20,30,0,0.45)" stroke-width="0.55" stroke-linejoin="round"/>
<path d="M1034.7,643.5 L1040.0,645.2 L1046.5,643.5 L1041.3,641.5 L1036.0,641.8Z" fill="#d3ff2e" stroke="rgba(20,30,0,0.45)" stroke-width="0.55" stroke-linejoin="round"/>
<path d="M1171.1,609.2 L1175.7,606.6 L1183.6,606.3 L1190.1,607.9 L1191.4,609.9 L1186.2,611.2 L1178.3,611.6 L1173.1,610.8Z" fill="#d3ff2e" stroke="rgba(20,30,0,0.45)" stroke-width="0.55" stroke-linejoin="round"/>
<path d="M1171.1,648.1 L1175.7,650.7 L1183.6,651.0 L1190.1,649.4 L1191.4,647.4 L1186.2,646.1 L1178.3,645.7 L1173.1,646.5Z" fill="#d3ff2e" stroke="rgba(20,30,0,0.45)" stroke-width="0.55" stroke-linejoin="round"/>
<path d="M1198.0,594.2 L1202.2,592.8 L1202.2,600.1 L1198.6,598.7Z" fill="#d3ff2e" stroke="rgba(20,30,0,0.45)" stroke-width="0.55" stroke-linejoin="round"/>
<path d="M1198.0,663.1 L1202.2,664.5 L1202.2,657.2 L1198.6,658.6Z" fill="#d3ff2e" stroke="rgba(20,30,0,0.45)" stroke-width="0.55" stroke-linejoin="round"/>
<path d="M866.9,458.7 L868.2,462.9 L872.1,468.1 L878.7,474.0 L885.2,477.3 L893.1,477.3 L899.6,475.3 L908.8,474.7 L919.3,474.7 L927.2,476.0 L927.2,476.0 L929.9,479.9 L928.6,485.1 L924.6,489.1 L921.9,491.0 L914.1,496.9 L906.2,500.2 L895.7,500.9 L886.5,500.9 L881.3,504.2 L879.3,510.1 L882.6,515.3 L886.5,514.0 L893.1,510.1 L900.9,511.4 L906.2,510.1 L912.7,509.4 L919.3,512.7 L922.0,513.3 L927.2,512.7 L931.2,509.4 L935.1,505.5 L940.4,503.5 L945.6,502.8 L949.5,505.5 L951.5,510.1 L950.8,515.3 L948.2,519.2 L944.3,521.9 L937.7,523.8 L931.2,525.8 L927.9,529.1 L927.2,533.6 L931.2,538.2 L936.4,541.5 L943.0,544.1 L949.5,546.1 L954.1,548.7 L956.7,552.0 L959.4,548.7 L963.3,542.8 L967.9,537.6 L972.5,533.6 L975.1,532.3 L974.4,526.4 L973.8,520.5 L975.1,518.6 L976.4,523.2 L975.7,529.7 L977.1,536.3 L979.7,542.8 L982.3,548.1 L984.9,551.3 L990.2,549.6 L996.7,548.7 L1003.3,547.0 L1008.5,545.2 L1013.8,544.1 L1020.3,545.4 L1026.9,544.8 L1030.8,545.4 L1031.5,548.7 L1026.9,552.0 L1021.6,555.3 L1017.7,558.6 L1016.4,561.4 L1020.3,564.0 L1025.6,560.7 L1029.5,558.1 L1033.4,560.1 L1036.0,564.7 L1037.3,569.2 L1039.3,571.9 L1041.3,567.3 L1043.2,562.0 L1047.8,558.1 L1053.1,555.5 L1058.3,552.9 L1063.6,549.6 L1068.8,546.3 L1070.2,546.1 L1075.4,544.1 L1079.4,546.8 L1083.9,551.3 L1089.2,555.9 L1094.4,559.9 L1098.4,563.1 L1099.0,567.9 L1098.4,573.2 L1101.6,575.8 L1106.2,579.1 L1110.2,582.4 L1112.8,584.1 L1116.7,581.7 L1120.6,579.3 L1125.9,578.4 L1132.4,580.4 L1137.7,581.0 L1139.0,579.1 L1135.1,576.5 L1131.1,573.2 L1125.9,572.5 L1119.3,573.2 L1117.8,569.2 L1119.3,564.7 L1123.3,560.7 L1128.5,557.5 L1132.4,556.8 L1136.4,559.4 L1140.3,563.4 L1142.9,567.9 L1144.9,571.9 L1148.2,573.2 L1150.1,569.9 L1150.8,564.7 L1153.4,560.1 L1157.3,556.8 L1161.3,553.5 L1165.2,551.6 L1168.5,554.8 L1171.8,559.4 L1175.7,564.0 L1179.0,568.6 L1179.6,573.8 L1182.9,577.8 L1186.2,581.0 L1189.5,578.4 L1192.7,575.8 L1190.8,572.5 L1189.5,568.6 L1191.4,565.3 L1194.1,564.7 L1198.0,567.3 L1202.2,569.9 L1202.1,569.9 L1202.1,458.4Z" fill="#3dffc2" stroke="rgba(20,30,0,0.45)" stroke-width="0.55" stroke-linejoin="round"/>
<path d="M866.9,798.6 L868.2,794.4 L872.1,789.2 L878.7,783.3 L885.2,780.0 L893.1,780.0 L899.6,782.0 L908.8,782.6 L919.3,782.6 L927.2,781.3 L927.2,781.3 L929.9,777.4 L928.6,772.2 L924.6,768.2 L921.9,766.3 L914.1,760.4 L906.2,757.1 L895.7,756.4 L886.5,756.4 L881.3,753.1 L879.3,747.2 L882.6,742.0 L886.5,743.3 L893.1,747.2 L900.9,745.9 L906.2,747.2 L912.7,747.9 L919.3,744.6 L922.0,744.0 L927.2,744.6 L931.2,747.9 L935.1,751.8 L940.4,753.8 L945.6,754.5 L949.5,751.8 L951.5,747.2 L950.8,742.0 L948.2,738.1 L944.3,735.4 L937.7,733.5 L931.2,731.5 L927.9,728.2 L927.2,723.7 L931.2,719.1 L936.4,715.8 L943.0,713.2 L949.5,711.2 L954.1,708.6 L956.7,705.3 L959.4,708.6 L963.3,714.5 L967.9,719.7 L972.5,723.7 L975.1,725.0 L974.4,730.9 L973.8,736.8 L975.1,738.7 L976.4,734.1 L975.7,727.6 L977.1,721.0 L979.7,714.5 L982.3,709.2 L984.9,706.0 L990.2,707.7 L996.7,708.6 L1003.3,710.3 L1008.5,712.1 L1013.8,713.2 L1020.3,711.9 L1026.9,712.5 L1030.8,711.9 L1031.5,708.6 L1026.9,705.3 L1021.6,702.0 L1017.7,698.7 L1016.4,695.9 L1020.3,693.3 L1025.6,696.6 L1029.5,699.2 L1033.4,697.2 L1036.0,692.6 L1037.3,688.1 L1039.3,685.4 L1041.3,690.0 L1043.2,695.3 L1047.8,699.2 L1053.1,701.8 L1058.3,704.4 L1063.6,707.7 L1068.8,711.0 L1070.2,711.2 L1075.4,713.2 L1079.4,710.5 L1083.9,706.0 L1089.2,701.4 L1094.4,697.4 L1098.4,694.2 L1099.0,689.4 L1098.4,684.1 L1101.6,681.5 L1106.2,678.2 L1110.2,674.9 L1112.8,673.2 L1116.7,675.6 L1120.6,678.0 L1125.9,678.9 L1132.4,676.9 L1137.7,676.3 L1139.0,678.2 L1135.1,680.8 L1131.1,684.1 L1125.9,684.8 L1119.3,684.1 L1117.8,688.1 L1119.3,692.6 L1123.3,696.6 L1128.5,699.8 L1132.4,700.5 L1136.4,697.9 L1140.3,693.9 L1142.9,689.4 L1144.9,685.4 L1148.2,684.1 L1150.1,687.4 L1150.8,692.6 L1153.4,697.2 L1157.3,700.5 L1161.3,703.8 L1165.2,705.7 L1168.5,702.5 L1171.8,697.9 L1175.7,693.3 L1179.0,688.7 L1179.6,683.5 L1182.9,679.5 L1186.2,676.3 L1189.5,678.9 L1192.7,681.5 L1190.8,684.8 L1189.5,688.7 L1191.4,692.0 L1194.1,692.6 L1198.0,690.0 L1202.2,687.4 L1202.1,687.4 L1202.1,798.9Z" fill="#3dffc2" stroke="rgba(20,30,0,0.45)" stroke-width="0.55" stroke-linejoin="round"/>
<path d="M769.2,514.0 L771.8,510.1 L777.7,506.8 L785.6,502.2 L793.5,496.9 L801.3,495.0 L810.5,493.7 L818.4,494.3 L823.6,491.7 L827.5,484.5 L830.2,479.2 L832.1,485.1 L833.4,494.3 L835.4,503.5 L839.3,508.7 L840.4,512.0 L838.0,516.6 L832.8,518.6 L828.9,517.3 L825.6,511.4 L819.7,508.1 L811.8,507.4 L803.9,508.1 L796.1,510.1 L788.2,514.0 L781.7,517.9 L775.1,522.5 L771.2,520.5 L769.2,516.6Z" fill="#3dffc2" stroke="rgba(20,30,0,0.45)" stroke-width="0.55" stroke-linejoin="round"/>
<path d="M769.2,743.3 L771.8,747.2 L777.7,750.5 L785.6,755.1 L793.5,760.4 L801.3,762.3 L810.5,763.6 L818.4,763.0 L823.6,765.6 L827.5,772.8 L830.2,778.1 L832.1,772.2 L833.4,763.0 L835.4,753.8 L839.3,748.6 L840.4,745.3 L838.0,740.7 L832.8,738.7 L828.9,740.0 L825.6,745.9 L819.7,749.2 L811.8,749.9 L803.9,749.2 L796.1,747.2 L788.2,743.3 L781.7,739.4 L775.1,734.8 L771.2,736.8 L769.2,740.7Z" fill="#3dffc2" stroke="rgba(20,30,0,0.45)" stroke-width="0.55" stroke-linejoin="round"/>
<path d="M830.2,540.2 L832.1,535.0 L838.0,532.3 L844.6,533.6 L849.8,538.9 L851.8,545.4 L851.1,553.3 L851.5,559.4 L851.1,563.4 L847.9,567.3 L843.3,562.0 L839.3,556.8 L835.4,554.2 L831.5,550.2 L830.4,545.4Z" fill="#3dffc2" stroke="rgba(20,30,0,0.45)" stroke-width="0.55" stroke-linejoin="round"/>
<path d="M830.2,717.1 L832.1,722.3 L838.0,725.0 L844.6,723.7 L849.8,718.4 L851.8,711.9 L851.1,704.0 L851.5,697.9 L851.1,693.9 L847.9,690.0 L843.3,695.3 L839.3,700.5 L835.4,703.1 L831.5,707.1 L830.4,711.9Z" fill="#3dffc2" stroke="rgba(20,30,0,0.45)" stroke-width="0.55" stroke-linejoin="round"/>
<path d="M981.6,580.4 L984.3,576.5 L986.9,580.4 L984.3,584.3Z" fill="#3dffc2" stroke="rgba(20,30,0,0.45)" stroke-width="0.55" stroke-linejoin="round"/>
<path d="M981.6,676.9 L984.3,680.8 L986.9,676.9 L984.3,673.0Z" fill="#3dffc2" stroke="rgba(20,30,0,0.45)" stroke-width="0.55" stroke-linejoin="round"/>
<path d="M925.3,495.6 L929.9,492.4 L935.1,489.1 L940.4,484.5 L945.6,480.6 L952.1,478.6 L958.7,476.6 L962.6,473.4 L966.6,469.4 L971.8,466.1 L979.7,464.8 L990.2,463.5 L1000.6,462.9 L1005.9,461.6 L1009.2,458.7 L1077.4,458.7 L1081.3,461.3 L1086.6,460.9 L1089.2,458.7 L1202.2,458.7 L1202.2,540.2 L1196.7,540.9 L1192.7,542.2 L1188.8,545.4 L1184.9,549.4 L1179.6,552.0 L1174.4,552.7 L1171.8,548.1 L1169.8,542.8 L1167.8,537.6 L1166.5,532.3 L1165.2,529.1 L1161.3,529.7 L1159.3,533.6 L1158.0,538.2 L1154.7,541.5 L1150.8,545.4 L1145.6,546.8 L1140.3,545.4 L1137.7,544.1 L1139.7,540.9 L1137.7,538.9 L1133.8,535.6 L1131.1,533.0 L1129.2,533.6 L1125.9,538.9 L1122.0,542.8 L1118.0,546.8 L1114.1,551.3 L1110.2,552.7 L1106.2,551.3 L1102.3,548.7 L1098.4,545.4 L1094.4,541.5 L1091.2,536.9 L1089.2,531.0 L1087.2,524.5 L1085.9,519.2 L1086.6,512.7 L1084.6,507.4 L1080.0,505.5 L1082.6,500.9 L1085.9,495.6 L1087.2,490.4 L1085.9,486.5 L1081.3,485.4 L1076.7,487.8 L1074.8,491.0 L1076.1,493.7 L1075.4,496.3 L1072.1,497.6 L1065.6,498.9 L1059.0,499.6 L1054.5,501.5 L1053.1,504.8 L1055.1,507.4 L1060.4,508.7 L1065.6,510.7 L1068.2,514.0 L1068.2,517.9 L1066.2,519.9 L1064.9,515.3 L1061.7,511.4 L1057.0,510.7 L1053.1,512.7 L1047.8,515.3 L1042.6,517.9 L1038.7,519.9 L1036.7,517.9 L1033.4,512.7 L1030.8,507.4 L1030.1,500.9 L1032.1,496.9 L1030.8,493.0 L1026.9,490.7 L1019.0,490.1 L1011.1,490.4 L1005.9,492.4 L1009.8,495.6 L1009.8,499.6 L1007.2,504.8 L1003.3,507.4 L995.4,508.1 L987.5,508.7 L983.0,507.4 L981.6,504.2 L983.6,499.6 L982.3,494.3 L978.4,491.0 L974.4,490.4 L967.9,492.4 L962.6,494.3 L957.4,496.3 L952.1,495.0 L945.6,493.0 L939.0,494.3 L932.5,497.6 L927.9,498.3Z" fill="#00adff" stroke="rgba(20,30,0,0.45)" stroke-width="0.55" stroke-linejoin="round"/>
<path d="M925.3,761.7 L929.9,764.9 L935.1,768.2 L940.4,772.8 L945.6,776.7 L952.1,778.7 L958.7,780.7 L962.6,783.9 L966.6,787.9 L971.8,791.2 L979.7,792.5 L990.2,793.8 L1000.6,794.4 L1005.9,795.7 L1009.2,798.6 L1077.4,798.6 L1081.3,796.0 L1086.6,796.4 L1089.2,798.6 L1202.2,798.6 L1202.2,717.1 L1196.7,716.4 L1192.7,715.1 L1188.8,711.9 L1184.9,707.9 L1179.6,705.3 L1174.4,704.6 L1171.8,709.2 L1169.8,714.5 L1167.8,719.7 L1166.5,725.0 L1165.2,728.2 L1161.3,727.6 L1159.3,723.7 L1158.0,719.1 L1154.7,715.8 L1150.8,711.9 L1145.6,710.5 L1140.3,711.9 L1137.7,713.2 L1139.7,716.4 L1137.7,718.4 L1133.8,721.7 L1131.1,724.3 L1129.2,723.7 L1125.9,718.4 L1122.0,714.5 L1118.0,710.5 L1114.1,706.0 L1110.2,704.6 L1106.2,706.0 L1102.3,708.6 L1098.4,711.9 L1094.4,715.8 L1091.2,720.4 L1089.2,726.3 L1087.2,732.8 L1085.9,738.1 L1086.6,744.6 L1084.6,749.9 L1080.0,751.8 L1082.6,756.4 L1085.9,761.7 L1087.2,766.9 L1085.9,770.8 L1081.3,771.9 L1076.7,769.5 L1074.8,766.3 L1076.1,763.6 L1075.4,761.0 L1072.1,759.7 L1065.6,758.4 L1059.0,757.7 L1054.5,755.8 L1053.1,752.5 L1055.1,749.9 L1060.4,748.6 L1065.6,746.6 L1068.2,743.3 L1068.2,739.4 L1066.2,737.4 L1064.9,742.0 L1061.7,745.9 L1057.0,746.6 L1053.1,744.6 L1047.8,742.0 L1042.6,739.4 L1038.7,737.4 L1036.7,739.4 L1033.4,744.6 L1030.8,749.9 L1030.1,756.4 L1032.1,760.4 L1030.8,764.3 L1026.9,766.6 L1019.0,767.2 L1011.1,766.9 L1005.9,764.9 L1009.8,761.7 L1009.8,757.7 L1007.2,752.5 L1003.3,749.9 L995.4,749.2 L987.5,748.6 L983.0,749.9 L981.6,753.1 L983.6,757.7 L982.3,763.0 L978.4,766.3 L974.4,766.9 L967.9,764.9 L962.6,763.0 L957.4,761.0 L952.1,762.3 L945.6,764.3 L939.0,763.0 L932.5,759.7 L927.9,759.0Z" fill="#00adff" stroke="rgba(20,30,0,0.45)" stroke-width="0.55" stroke-linejoin="round"/>
<path d="M902.9,460.2 L906.2,458.7 L918.0,458.7 L919.3,461.6 L916.0,465.5 L911.4,468.1 L906.8,466.1 L903.6,462.9Z" fill="#00adff" stroke="rgba(20,30,0,0.45)" stroke-width="0.55" stroke-linejoin="round"/>
<path d="M902.9,797.1 L906.2,798.6 L918.0,798.6 L919.3,795.7 L916.0,791.8 L911.4,789.2 L906.8,791.2 L903.6,794.4Z" fill="#00adff" stroke="rgba(20,30,0,0.45)" stroke-width="0.55" stroke-linejoin="round"/>
<path d="M948.9,529.7 L956.1,524.5 L961.3,529.1 L959.4,534.3 L954.1,535.6 L950.2,533.0Z" fill="#00adff" stroke="rgba(20,30,0,0.45)" stroke-width="0.55" stroke-linejoin="round"/>
<path d="M948.9,727.6 L956.1,732.8 L961.3,728.2 L959.4,723.0 L954.1,721.7 L950.2,724.3Z" fill="#00adff" stroke="rgba(20,30,0,0.45)" stroke-width="0.55" stroke-linejoin="round"/>
<path d="M1007.2,518.6 L1011.8,512.7 L1016.4,518.6 L1011.8,523.8Z" fill="#00adff" stroke="rgba(20,30,0,0.45)" stroke-width="0.55" stroke-linejoin="round"/>
<path d="M1007.2,738.7 L1011.8,744.6 L1016.4,738.7 L1011.8,733.5Z" fill="#00adff" stroke="rgba(20,30,0,0.45)" stroke-width="0.55" stroke-linejoin="round"/>
<path d="M1036.0,529.7 L1039.3,525.8 L1043.2,529.5 L1040.0,533.0 L1036.7,532.3Z" fill="#00adff" stroke="rgba(20,30,0,0.45)" stroke-width="0.55" stroke-linejoin="round"/>
<path d="M1036.0,727.6 L1039.3,731.5 L1043.2,727.8 L1040.0,724.3 L1036.7,725.0Z" fill="#00adff" stroke="rgba(20,30,0,0.45)" stroke-width="0.55" stroke-linejoin="round"/>
<path d="M971.2,479.2 L973.8,476.6 L977.7,477.3 L978.4,480.6 L976.4,483.2 L972.5,482.5Z" fill="#3dffc2" stroke="rgba(20,30,0,0.45)" stroke-width="0.55" stroke-linejoin="round"/>
<path d="M971.2,778.1 L973.8,780.7 L977.7,780.0 L978.4,776.7 L976.4,774.1 L972.5,774.8Z" fill="#3dffc2" stroke="rgba(20,30,0,0.45)" stroke-width="0.55" stroke-linejoin="round"/>
<path d="M1042.6,482.5 L1046.5,480.6 L1053.1,479.9 L1059.0,481.2 L1060.3,484.5 L1058.3,487.8 L1053.1,488.4 L1047.8,486.5 L1043.9,484.5Z" fill="#3dffc2" stroke="rgba(20,30,0,0.45)" stroke-width="0.55" stroke-linejoin="round"/>
<path d="M1042.6,774.8 L1046.5,776.7 L1053.1,777.4 L1059.0,776.1 L1060.3,772.8 L1058.3,769.5 L1053.1,768.9 L1047.8,770.8 L1043.9,772.8Z" fill="#3dffc2" stroke="rgba(20,30,0,0.45)" stroke-width="0.55" stroke-linejoin="round"/>
<path d="M1063.6,491.7 L1067.5,490.1 L1072.7,490.4 L1074.1,492.4 L1070.1,494.1 L1065.5,494.1Z" fill="#3dffc2" stroke="rgba(20,30,0,0.45)" stroke-width="0.55" stroke-linejoin="round"/>
<path d="M1063.6,765.6 L1067.5,767.2 L1072.7,766.9 L1074.1,764.9 L1070.1,763.2 L1065.5,763.2Z" fill="#3dffc2" stroke="rgba(20,30,0,0.45)" stroke-width="0.55" stroke-linejoin="round"/>
<path d="M1075.4,458.7 L1084.5,458.7 L1082.6,460.9 L1078.0,460.9Z" fill="#3dffc2" stroke="rgba(20,30,0,0.45)" stroke-width="0.55" stroke-linejoin="round"/>
<path d="M1075.4,798.6 L1084.5,798.6 L1082.6,796.4 L1078.0,796.4Z" fill="#3dffc2" stroke="rgba(20,30,0,0.45)" stroke-width="0.55" stroke-linejoin="round"/>
<path d="M1093.8,458.7 L1093.8,460.2 L1090.5,465.5 L1086.6,469.2 L1080.0,470.5 L1072.1,468.8 L1065.6,467.1 L1060.4,471.8 L1064.3,474.7 L1070.8,475.3 L1078.7,473.4 L1086.6,472.7 L1093.1,474.7 L1094.4,478.6 L1097.1,483.2 L1099.7,487.8 L1100.3,493.0 L1102.3,496.7 L1107.5,495.6 L1112.8,494.3 L1118.0,493.0 L1122.0,490.4 L1119.3,487.1 L1114.7,484.5 L1111.5,481.9 L1116.7,480.6 L1123.3,480.6 L1131.1,481.2 L1137.7,483.2 L1144.2,485.8 L1149.5,488.4 L1156.0,487.8 L1163.9,487.1 L1169.1,486.5 L1169.8,491.7 L1167.8,498.3 L1167.2,504.8 L1169.8,511.4 L1171.8,517.9 L1173.7,524.5 L1174.4,531.0 L1175.7,536.3 L1180.9,535.0 L1186.2,531.0 L1188.2,525.8 L1190.1,520.5 L1194.1,517.3 L1202.2,516.0 L1202.2,458.7 L1136.4,458.7 L1135.7,460.9 L1131.1,461.6 L1127.2,460.2 L1126.5,458.7Z" fill="#0018ff" stroke="rgba(20,30,0,0.45)" stroke-width="0.55" stroke-linejoin="round"/>
<path d="M1093.8,798.6 L1093.8,797.1 L1090.5,791.8 L1086.6,788.1 L1080.0,786.8 L1072.1,788.5 L1065.6,790.2 L1060.4,785.5 L1064.3,782.6 L1070.8,782.0 L1078.7,783.9 L1086.6,784.6 L1093.1,782.6 L1094.4,778.7 L1097.1,774.1 L1099.7,769.5 L1100.3,764.3 L1102.3,760.6 L1107.5,761.7 L1112.8,763.0 L1118.0,764.3 L1122.0,766.9 L1119.3,770.2 L1114.7,772.8 L1111.5,775.4 L1116.7,776.7 L1123.3,776.7 L1131.1,776.1 L1137.7,774.1 L1144.2,771.5 L1149.5,768.9 L1156.0,769.5 L1163.9,770.2 L1169.1,770.8 L1169.8,765.6 L1167.8,759.0 L1167.2,752.5 L1169.8,745.9 L1171.8,739.4 L1173.7,732.8 L1174.4,726.3 L1175.7,721.0 L1180.9,722.3 L1186.2,726.3 L1188.2,731.5 L1190.1,736.8 L1194.1,740.0 L1202.2,741.3 L1202.2,798.6 L1136.4,798.6 L1135.7,796.4 L1131.1,795.7 L1127.2,797.1 L1126.5,798.6Z" fill="#0018ff" stroke="rgba(20,30,0,0.45)" stroke-width="0.55" stroke-linejoin="round"/>
<path d="M1119.3,471.4 L1125.9,469.2 L1133.8,468.8 L1141.6,470.7 L1148.2,474.0 L1154.7,476.6 L1160.0,477.3 L1166.5,477.9 L1168.5,481.2 L1167.8,485.8 L1160.0,486.5 L1153.4,484.9 L1148.2,481.9 L1141.6,479.2 L1133.8,477.3 L1125.9,476.0 L1120.6,474.7 L1118.0,472.7Z" fill="#00adff" stroke="rgba(20,30,0,0.45)" stroke-width="0.55" stroke-linejoin="round"/>
<path d="M1119.3,785.9 L1125.9,788.1 L1133.8,788.5 L1141.6,786.6 L1148.2,783.3 L1154.7,780.7 L1160.0,780.0 L1166.5,779.4 L1168.5,776.1 L1167.8,771.5 L1160.0,770.8 L1153.4,772.4 L1148.2,775.4 L1141.6,778.1 L1133.8,780.0 L1125.9,781.3 L1120.6,782.6 L1118.0,784.6Z" fill="#00adff" stroke="rgba(20,30,0,0.45)" stroke-width="0.55" stroke-linejoin="round"/>
<path d="M1156.0,476.0 L1160.0,474.7 L1166.5,474.9 L1167.8,476.6 L1162.6,477.5 L1157.3,477.3Z" fill="#0018ff" stroke="rgba(20,30,0,0.45)" stroke-width="0.55" stroke-linejoin="round"/>
<path d="M1156.0,781.3 L1160.0,782.6 L1166.5,782.4 L1167.8,780.7 L1162.6,779.8 L1157.3,780.0Z" fill="#0018ff" stroke="rgba(20,30,0,0.45)" stroke-width="0.55" stroke-linejoin="round"/>
<path d="M1201.9,486.2 L1201.5,486.8 L1200.2,487.2 L1198.3,487.5 L1196.3,487.5 L1194.5,487.2 L1193.2,486.8 L1192.7,486.2 L1193.2,485.6 L1194.5,485.2 L1196.3,484.9 L1198.3,484.9 L1200.2,485.2 L1201.5,485.6Z" fill="#00adff" stroke="rgba(20,30,0,0.45)" stroke-width="0.55" stroke-linejoin="round"/>
<path d="M1201.9,771.1 L1201.5,770.5 L1200.2,770.1 L1198.3,769.8 L1196.3,769.8 L1194.5,770.1 L1193.2,770.5 L1192.7,771.1 L1193.2,771.7 L1194.5,772.1 L1196.3,772.4 L1198.3,772.4 L1200.2,772.1 L1201.5,771.7Z" fill="#00adff" stroke="rgba(20,30,0,0.45)" stroke-width="0.55" stroke-linejoin="round"/>
<path d="M1196.4,496.7 L1196.1,497.6 L1195.1,498.3 L1193.8,498.7 L1192.2,498.7 L1190.9,498.3 L1189.9,497.6 L1189.6,496.7 L1189.9,495.8 L1190.9,495.0 L1192.2,494.6 L1193.8,494.6 L1195.1,495.0 L1196.1,495.8Z" fill="#00adff" stroke="rgba(20,30,0,0.45)" stroke-width="0.55" stroke-linejoin="round"/>
<path d="M1196.4,760.6 L1196.1,759.7 L1195.1,759.0 L1193.8,758.6 L1192.2,758.6 L1190.9,759.0 L1189.9,759.7 L1189.6,760.6 L1189.9,761.5 L1190.9,762.3 L1192.2,762.7 L1193.8,762.7 L1195.1,762.3 L1196.1,761.5Z" fill="#00adff" stroke="rgba(20,30,0,0.45)" stroke-width="0.55" stroke-linejoin="round"/>
<path d="M989.0,472.3 L988.6,473.0 L987.4,473.5 L985.6,473.8 L983.7,473.8 L982.0,473.5 L980.8,473.0 L980.3,472.3 L980.8,471.6 L982.0,471.1 L983.7,470.8 L985.6,470.8 L987.4,471.1 L988.6,471.6Z" fill="#0018ff" stroke="rgba(20,30,0,0.45)" stroke-width="0.55" stroke-linejoin="round"/>
<path d="M989.0,785.0 L988.6,784.3 L987.4,783.8 L985.6,783.5 L983.7,783.5 L982.0,783.8 L980.8,784.3 L980.3,785.0 L980.8,785.7 L982.0,786.2 L983.7,786.5 L985.6,786.5 L987.4,786.2 L988.6,785.7Z" fill="#0018ff" stroke="rgba(20,30,0,0.45)" stroke-width="0.55" stroke-linejoin="round"/>
<path d="M1019.0,482.3 L1017.7,482.9 L1014.1,483.5 L1008.8,483.8 L1003.0,483.8 L997.7,483.5 L994.1,482.9 L992.8,482.3 L994.1,481.6 L997.7,481.0 L1003.0,480.7 L1008.8,480.7 L1014.1,481.0 L1017.7,481.6Z" fill="#0018ff" stroke="rgba(20,30,0,0.45)" stroke-width="0.55" stroke-linejoin="round"/>
<path d="M1019.0,775.0 L1017.7,774.4 L1014.1,773.8 L1008.8,773.5 L1003.0,773.5 L997.7,773.8 L994.1,774.4 L992.8,775.0 L994.1,775.7 L997.7,776.3 L1003.0,776.6 L1008.8,776.6 L1014.1,776.3 L1017.7,775.7Z" fill="#0018ff" stroke="rgba(20,30,0,0.45)" stroke-width="0.55" stroke-linejoin="round"/>
<path d="M1019.3,477.9 L1024.2,475.3 L1033.4,474.4 L1041.3,474.9 L1043.9,477.3 L1040.0,479.6 L1032.1,481.0 L1024.2,481.0 L1020.3,479.9Z" fill="#0018ff" stroke="rgba(20,30,0,0.45)" stroke-width="0.55" stroke-linejoin="round"/>
<path d="M1019.3,779.4 L1024.2,782.0 L1033.4,782.9 L1041.3,782.4 L1043.9,780.0 L1040.0,777.7 L1032.1,776.3 L1024.2,776.3 L1020.3,777.4Z" fill="#0018ff" stroke="rgba(20,30,0,0.45)" stroke-width="0.55" stroke-linejoin="round"/>
<path d="M1033.4,491.4 L1038.7,488.4 L1044.6,491.0 L1040.0,494.1 L1035.4,493.7Z" fill="#0018ff" stroke="rgba(20,30,0,0.45)" stroke-width="0.55" stroke-linejoin="round"/>
<path d="M1033.4,765.9 L1038.7,768.9 L1044.6,766.3 L1040.0,763.2 L1035.4,763.6Z" fill="#0018ff" stroke="rgba(20,30,0,0.45)" stroke-width="0.55" stroke-linejoin="round"/>
<path d="M989.1,500.9 L993.4,498.5 L998.0,500.6 L993.8,503.2Z" fill="#0018ff" stroke="rgba(20,30,0,0.45)" stroke-width="0.55" stroke-linejoin="round"/>
<path d="M989.1,756.4 L993.4,758.8 L998.0,756.7 L993.8,754.1Z" fill="#0018ff" stroke="rgba(20,30,0,0.45)" stroke-width="0.55" stroke-linejoin="round"/>
<path d="M1077.3,481.9 L1076.9,482.4 L1075.6,482.9 L1073.8,483.1 L1071.7,483.1 L1069.9,482.9 L1068.6,482.4 L1068.2,481.9 L1068.6,481.3 L1069.9,480.8 L1071.7,480.6 L1073.8,480.6 L1075.6,480.8 L1076.9,481.3Z" fill="#0018ff" stroke="rgba(20,30,0,0.45)" stroke-width="0.55" stroke-linejoin="round"/>
<path d="M1077.3,775.4 L1076.9,774.9 L1075.6,774.4 L1073.8,774.2 L1071.7,774.2 L1069.9,774.4 L1068.6,774.9 L1068.2,775.4 L1068.6,776.0 L1069.9,776.5 L1071.7,776.7 L1073.8,776.7 L1075.6,776.5 L1076.9,776.0Z" fill="#0018ff" stroke="rgba(20,30,0,0.45)" stroke-width="0.55" stroke-linejoin="round"/>
<path d="M1142.3,495.6 L1146.9,493.0 L1152.1,495.0 L1157.3,499.6 L1162.6,504.8 L1158.7,507.4 L1152.1,508.1 L1146.2,506.8 L1144.2,500.9Z" fill="#0018ff" stroke="rgba(20,30,0,0.45)" stroke-width="0.55" stroke-linejoin="round"/>
<path d="M1142.3,761.7 L1146.9,764.3 L1152.1,762.3 L1157.3,757.7 L1162.6,752.5 L1158.7,749.9 L1152.1,749.2 L1146.2,750.5 L1144.2,756.4Z" fill="#0018ff" stroke="rgba(20,30,0,0.45)" stroke-width="0.55" stroke-linejoin="round"/>
<path d="M1114.6,502.2 L1114.3,504.0 L1113.3,505.5 L1111.9,506.3 L1110.3,506.3 L1108.9,505.5 L1107.9,504.0 L1107.5,502.2 L1107.9,500.4 L1108.9,498.9 L1110.3,498.1 L1111.9,498.1 L1113.3,498.9 L1114.3,500.4Z" fill="#0018ff" stroke="rgba(20,30,0,0.45)" stroke-width="0.55" stroke-linejoin="round"/>
<path d="M1114.6,755.1 L1114.3,753.3 L1113.3,751.8 L1111.9,751.0 L1110.3,751.0 L1108.9,751.8 L1107.9,753.3 L1107.5,755.1 L1107.9,756.9 L1108.9,758.4 L1110.3,759.2 L1111.9,759.2 L1113.3,758.4 L1114.3,756.9Z" fill="#0018ff" stroke="rgba(20,30,0,0.45)" stroke-width="0.55" stroke-linejoin="round"/>
<path d="M1102.3,514.6 L1108.9,513.3 L1115.4,510.7 L1120.6,508.1 L1122.6,511.4 L1120.6,515.3 L1115.4,517.7 L1108.9,517.3Z" fill="#0018ff" stroke="rgba(20,30,0,0.45)" stroke-width="0.55" stroke-linejoin="round"/>
<path d="M1102.3,742.7 L1108.9,744.0 L1115.4,746.6 L1120.6,749.2 L1122.6,745.9 L1120.6,742.0 L1115.4,739.6 L1108.9,740.0Z" fill="#0018ff" stroke="rgba(20,30,0,0.45)" stroke-width="0.55" stroke-linejoin="round"/>
<path d="M1144.9,515.3 L1147.5,513.3 L1150.8,515.3 L1148.8,519.2 L1147.5,521.2 L1145.6,518.6Z" fill="#0018ff" stroke="rgba(20,30,0,0.45)" stroke-width="0.55" stroke-linejoin="round"/>
<path d="M1144.9,742.0 L1147.5,744.0 L1150.8,742.0 L1148.8,738.1 L1147.5,736.1 L1145.6,738.7Z" fill="#0018ff" stroke="rgba(20,30,0,0.45)" stroke-width="0.55" stroke-linejoin="round"/>
<path d="M1149.9,528.7 L1149.6,529.7 L1149.0,530.5 L1148.0,531.0 L1147.0,531.0 L1146.0,530.5 L1145.4,529.7 L1145.2,528.7 L1145.4,527.6 L1146.0,526.8 L1147.0,526.4 L1148.0,526.4 L1149.0,526.8 L1149.6,527.6Z" fill="#0018ff" stroke="rgba(20,30,0,0.45)" stroke-width="0.55" stroke-linejoin="round"/>
<path d="M1149.9,728.6 L1149.6,727.6 L1149.0,726.8 L1148.0,726.3 L1147.0,726.3 L1146.0,726.8 L1145.4,727.6 L1145.2,728.6 L1145.4,729.7 L1146.0,730.5 L1147.0,730.9 L1148.0,730.9 L1149.0,730.5 L1149.6,729.7Z" fill="#0018ff" stroke="rgba(20,30,0,0.45)" stroke-width="0.55" stroke-linejoin="round"/>
<path d="M1163.9,466.8 L1169.1,462.9 L1175.7,460.9 L1183.6,462.2 L1188.2,466.1 L1187.5,471.4 L1182.9,474.0 L1177.0,470.7 L1170.5,468.8Z" fill="#00008f" stroke="rgba(20,30,0,0.45)" stroke-width="0.55" stroke-linejoin="round"/>
<path d="M1163.9,790.5 L1169.1,794.4 L1175.7,796.4 L1183.6,795.1 L1188.2,791.2 L1187.5,785.9 L1182.9,783.3 L1177.0,786.6 L1170.5,788.5Z" fill="#00008f" stroke="rgba(20,30,0,0.45)" stroke-width="0.55" stroke-linejoin="round"/>
</g>
<text x="763.60" y="462.90" font-size="12.2" text-anchor="end" fill="#1a1a1a"  stroke="#1a1a1a" stroke-width="0.2">180°</text>
<text x="763.60" y="491.27" font-size="12.2" text-anchor="end" fill="#1a1a1a"  stroke="#1a1a1a" stroke-width="0.2">150°</text>
<text x="763.60" y="519.65" font-size="12.2" text-anchor="end" fill="#1a1a1a"  stroke="#1a1a1a" stroke-width="0.2">120°</text>
<text x="763.60" y="548.02" font-size="12.2" text-anchor="end" fill="#1a1a1a"  stroke="#1a1a1a" stroke-width="0.2">90°</text>
<text x="763.60" y="576.40" font-size="12.2" text-anchor="end" fill="#1a1a1a"  stroke="#1a1a1a" stroke-width="0.2">60°</text>
<text x="763.60" y="604.77" font-size="12.2" text-anchor="end" fill="#1a1a1a"  stroke="#1a1a1a" stroke-width="0.2">30°</text>
<text x="763.60" y="633.15" font-size="12.2" text-anchor="end" fill="#1a1a1a"  stroke="#1a1a1a" stroke-width="0.2">0°</text>
<text x="763.60" y="661.52" font-size="12.2" text-anchor="end" fill="#1a1a1a"  stroke="#1a1a1a" stroke-width="0.2">-30°</text>
<text x="763.60" y="689.90" font-size="12.2" text-anchor="end" fill="#1a1a1a"  stroke="#1a1a1a" stroke-width="0.2">-60°</text>
<text x="763.60" y="718.27" font-size="12.2" text-anchor="end" fill="#1a1a1a"  stroke="#1a1a1a" stroke-width="0.2">-90°</text>
<text x="763.60" y="746.65" font-size="12.2" text-anchor="end" fill="#1a1a1a"  stroke="#1a1a1a" stroke-width="0.2">-120°</text>
<text x="763.60" y="775.02" font-size="12.2" text-anchor="end" fill="#1a1a1a"  stroke="#1a1a1a" stroke-width="0.2">-150°</text>
<text x="763.60" y="803.40" font-size="12.2" text-anchor="end" fill="#1a1a1a"  stroke="#1a1a1a" stroke-width="0.2">-180°</text>
<text x="766.20" y="812.50" font-size="12.4" text-anchor="middle" fill="#1a1a1a"  stroke="#1a1a1a" stroke-width="0.2">1</text>
<text x="875.17" y="812.50" font-size="12.4" text-anchor="middle" fill="#1a1a1a"  stroke="#1a1a1a" stroke-width="0.2">2</text>
<text x="1019.23" y="812.50" font-size="12.4" text-anchor="middle" fill="#1a1a1a"  stroke="#1a1a1a" stroke-width="0.2">5</text>
<text x="1128.21" y="812.50" font-size="12.4" text-anchor="middle" fill="#1a1a1a"  stroke="#1a1a1a" stroke-width="0.2">10</text>
<text x="1202.10" y="812.50" font-size="12.4" text-anchor="middle" fill="#1a1a1a"  stroke="#1a1a1a" stroke-width="0.2">16</text>
<text x="984.00" y="827.00" font-size="15" text-anchor="middle" fill="#1a1a1a"  stroke="#1a1a1a" stroke-width="0.2">Frequency (kHz)</text>
<text transform="translate(726.8,628.65) rotate(-90)" font-size="15.2" text-anchor="middle" fill="#1a1a1a" stroke="#1a1a1a" stroke-width="0.2">Vertical angle</text>
<rect x="1211.5" y="458.4" width="12.70" height="340.50" fill="url(#jet)"/>
<text x="1226.80" y="462.80" font-size="12.4" text-anchor="start" fill="#1a1a1a"  stroke="#1a1a1a" stroke-width="0.2">-6</text>
<text x="1226.80" y="511.44" font-size="12.4" text-anchor="start" fill="#1a1a1a"  stroke="#1a1a1a" stroke-width="0.2">-12</text>
<text x="1226.80" y="560.09" font-size="12.4" text-anchor="start" fill="#1a1a1a"  stroke="#1a1a1a" stroke-width="0.2">-18</text>
<text x="1226.80" y="608.73" font-size="12.4" text-anchor="start" fill="#1a1a1a"  stroke="#1a1a1a" stroke-width="0.2">-24</text>
<text x="1226.80" y="657.37" font-size="12.4" text-anchor="start" fill="#1a1a1a"  stroke="#1a1a1a" stroke-width="0.2">-30</text>
<text x="1226.80" y="706.01" font-size="12.4" text-anchor="start" fill="#1a1a1a"  stroke="#1a1a1a" stroke-width="0.2">-36</text>
<text x="1226.80" y="754.66" font-size="12.4" text-anchor="start" fill="#1a1a1a"  stroke="#1a1a1a" stroke-width="0.2">-42</text>
<text x="1226.80" y="803.30" font-size="12.4" text-anchor="start" fill="#1a1a1a"  stroke="#1a1a1a" stroke-width="0.2">-48</text>
<text x="1210.00" y="456.40" font-size="12.4" text-anchor="start" fill="#1a1a1a"  stroke="#1a1a1a" stroke-width="0.2">dB</text>
</svg></body></html>
